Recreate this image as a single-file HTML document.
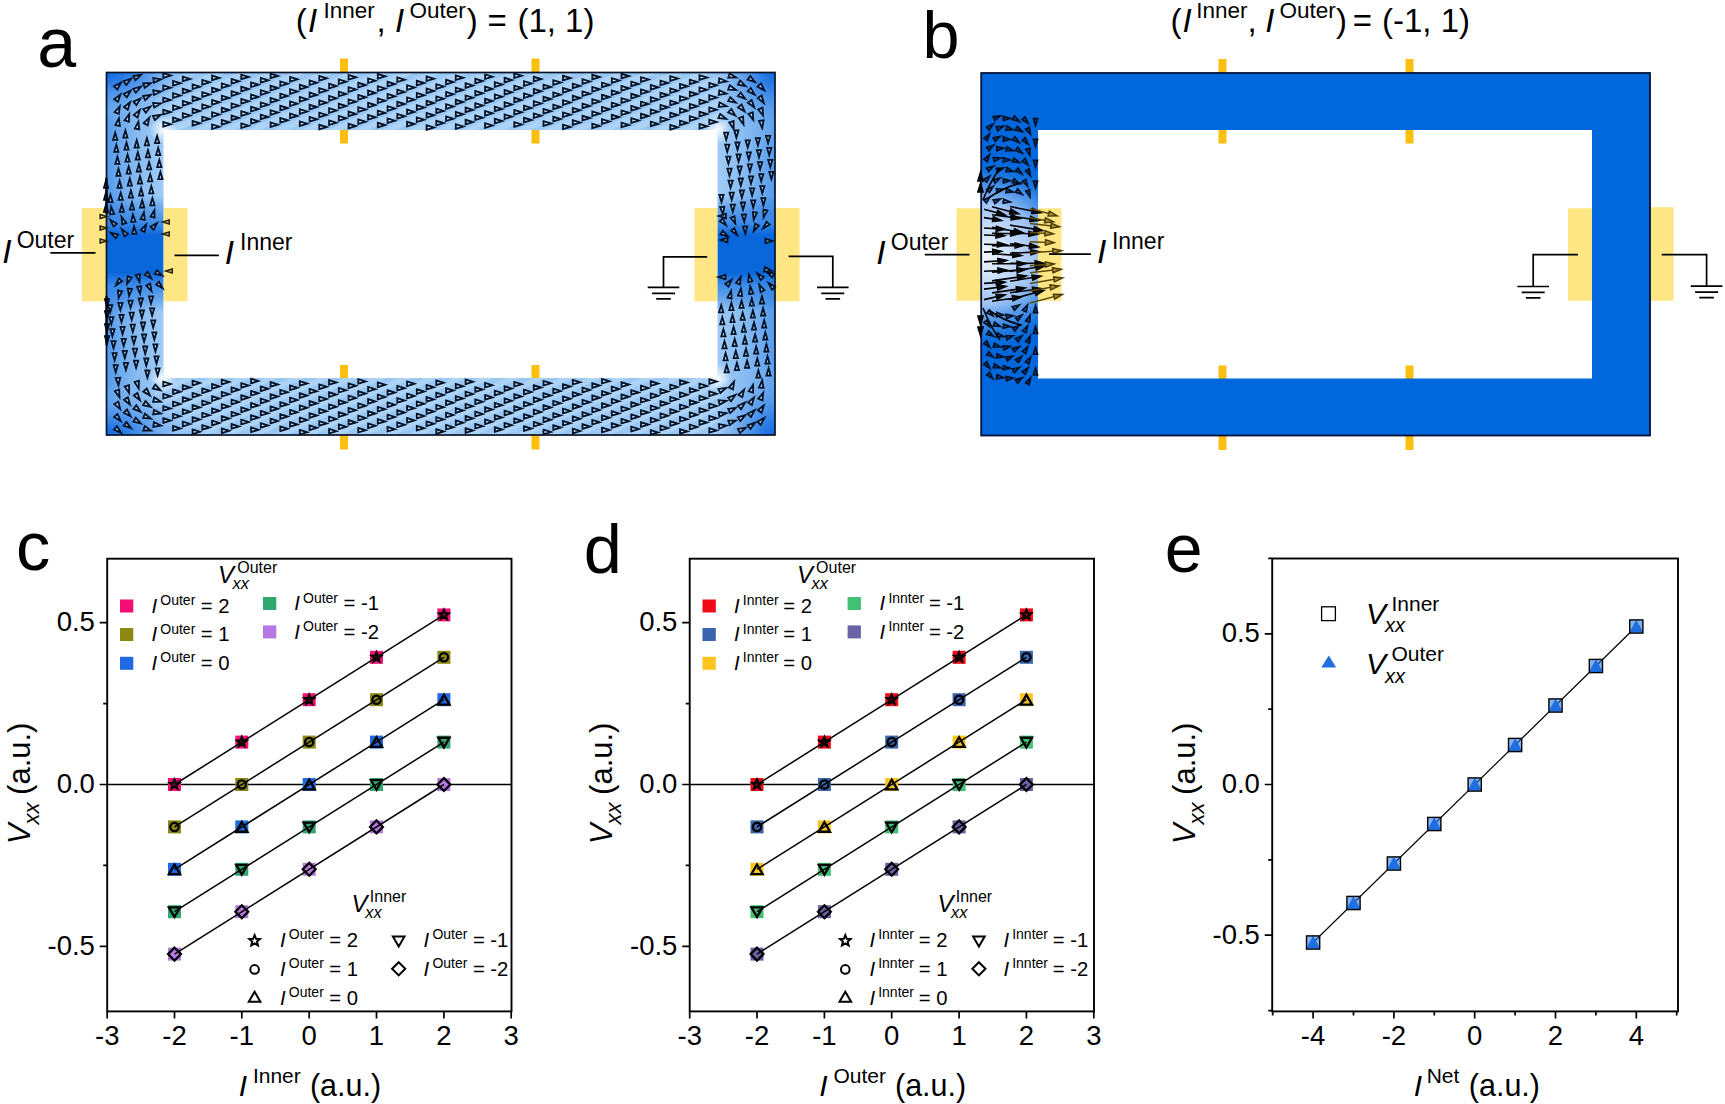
<!DOCTYPE html>
<html><head><meta charset="utf-8"><title>Figure</title>
<style>html,body{margin:0;padding:0;background:#fff}svg{display:block}</style></head>
<body><svg width="1725" height="1104" viewBox="0 0 1725 1104">
<rect width="1725" height="1104" fill="#fff"/>
<defs>
<radialGradient id="gTL" gradientUnits="userSpaceOnUse" cx="0" cy="0" r="1" gradientTransform="translate(106.5 72.5) scale(105 52)"><stop offset="0" stop-color="#0f68e0"/><stop offset="0.22" stop-color="#2c7ee6" stop-opacity="0.95"/><stop offset="0.55" stop-color="#5c9deb" stop-opacity="0.55"/><stop offset="1" stop-color="#a0ccf5" stop-opacity="0"/></radialGradient>
<radialGradient id="gBL" gradientUnits="userSpaceOnUse" cx="0" cy="0" r="1" gradientTransform="translate(106.5 435.0) scale(105 52)"><stop offset="0" stop-color="#0f68e0"/><stop offset="0.22" stop-color="#2c7ee6" stop-opacity="0.95"/><stop offset="0.55" stop-color="#5c9deb" stop-opacity="0.55"/><stop offset="1" stop-color="#a0ccf5" stop-opacity="0"/></radialGradient>
<radialGradient id="gTR" gradientUnits="userSpaceOnUse" cx="0" cy="0" r="1" gradientTransform="translate(775.0 72.5) scale(70 72)"><stop offset="0" stop-color="#0f68e0"/><stop offset="0.22" stop-color="#2c7ee6" stop-opacity="0.95"/><stop offset="0.55" stop-color="#5c9deb" stop-opacity="0.55"/><stop offset="1" stop-color="#a0ccf5" stop-opacity="0"/></radialGradient>
<radialGradient id="gBR" gradientUnits="userSpaceOnUse" cx="0" cy="0" r="1" gradientTransform="translate(775.0 435.0) scale(70 72)"><stop offset="0" stop-color="#0f68e0"/><stop offset="0.22" stop-color="#2c7ee6" stop-opacity="0.95"/><stop offset="0.55" stop-color="#5c9deb" stop-opacity="0.55"/><stop offset="1" stop-color="#a0ccf5" stop-opacity="0"/></radialGradient>
<linearGradient id="gLS" gradientUnits="userSpaceOnUse" x1="106.5" y1="0" x2="163.5" y2="0"><stop offset="0" stop-color="#4f96ea" stop-opacity="0.95"/><stop offset="0.55" stop-color="#6aa8ee" stop-opacity="0.45"/><stop offset="1" stop-color="#6aa8ee" stop-opacity="0"/></linearGradient>
<linearGradient id="gRS" gradientUnits="userSpaceOnUse" x1="775.0" y1="0" x2="717.5" y2="0"><stop offset="0" stop-color="#4f96ea" stop-opacity="0.95"/><stop offset="0.55" stop-color="#6aa8ee" stop-opacity="0.45"/><stop offset="1" stop-color="#6aa8ee" stop-opacity="0"/></linearGradient>
<radialGradient id="wTL" gradientUnits="userSpaceOnUse" cx="163.5" cy="130.0" r="14"><stop offset="0" stop-color="#ffffff" stop-opacity="0.95"/><stop offset="1" stop-color="#ffffff" stop-opacity="0"/></radialGradient>
<radialGradient id="wBL" gradientUnits="userSpaceOnUse" cx="163.5" cy="378.0" r="14"><stop offset="0" stop-color="#ffffff" stop-opacity="0.95"/><stop offset="1" stop-color="#ffffff" stop-opacity="0"/></radialGradient>
<radialGradient id="wTR" gradientUnits="userSpaceOnUse" cx="717.5" cy="130.0" r="14"><stop offset="0" stop-color="#ffffff" stop-opacity="0.95"/><stop offset="1" stop-color="#ffffff" stop-opacity="0"/></radialGradient>
<radialGradient id="wBR" gradientUnits="userSpaceOnUse" cx="717.5" cy="378.0" r="14"><stop offset="0" stop-color="#ffffff" stop-opacity="0.95"/><stop offset="1" stop-color="#ffffff" stop-opacity="0"/></radialGradient>
<linearGradient id="gC" gradientUnits="userSpaceOnUse" x1="0" y1="196.0" x2="0" y2="312.0"><stop offset="0" stop-color="#0a66db" stop-opacity="0"/><stop offset="0.22" stop-color="#2f82e6" stop-opacity="0.8"/><stop offset="0.34" stop-color="#0a66db"/><stop offset="0.66" stop-color="#0a66db"/><stop offset="0.78" stop-color="#2f82e6" stop-opacity="0.8"/><stop offset="1" stop-color="#0a66db" stop-opacity="0"/></linearGradient>
<radialGradient id="bSpot" gradientUnits="userSpaceOnUse" cx="0" cy="0" r="1" gradientTransform="translate(981 254) scale(130 115)"><stop offset="0" stop-color="#ffffff" stop-opacity="0.97"/><stop offset="0.22" stop-color="#d6e7fc" stop-opacity="0.95"/><stop offset="0.44" stop-color="#a8c8f4" stop-opacity="0.95"/><stop offset="0.62" stop-color="#5f9eed" stop-opacity="0.7"/><stop offset="0.85" stop-color="#0068dc" stop-opacity="0"/></radialGradient>
<clipPath id="clipA"><path d="M106.5 72.5H775.0V435.0H106.5Z M163.5 130.0V378.0H717.5V130.0Z" clip-rule="evenodd"/></clipPath>
<clipPath id="clipBL"><rect x="981.5" y="100" width="56.5" height="300"/></clipPath>
<pattern id="bands" patternUnits="userSpaceOnUse" width="40" height="11.1" patternTransform="translate(0 4) rotate(-24.3)"><rect width="40" height="5.5" fill="#8fc0f2" fill-opacity="0.35"/><rect y="5.5" width="40" height="5.6" fill="#c4e0fb" fill-opacity="0.35"/></pattern>
</defs>
<rect x="82" y="208" width="24.5" height="93.3" fill="#fee684"/>
<rect x="163.5" y="208" width="24" height="93.3" fill="#fee684"/>
<rect x="694.5" y="208" width="23.5" height="93.3" fill="#fee684"/>
<rect x="775" y="208" width="24.5" height="93.3" fill="#fee684"/>
<rect x="340" y="58.5" width="8" height="14.5" fill="#fbbf10"/>
<rect x="340" y="130" width="8" height="13.5" fill="#fbbf10"/>
<rect x="340" y="365" width="8" height="13.5" fill="#fbbf10"/>
<rect x="340" y="435" width="8" height="14.5" fill="#fbbf10"/>
<rect x="531.5" y="58.5" width="8" height="14.5" fill="#fbbf10"/>
<rect x="531.5" y="130" width="8" height="13.5" fill="#fbbf10"/>
<rect x="531.5" y="365" width="8" height="13.5" fill="#fbbf10"/>
<rect x="531.5" y="435" width="8" height="14.5" fill="#fbbf10"/>
<path d="M106.5 72.5H775.0V435.0H106.5Z M163.5 130.0V378.0H717.5V130.0Z" fill="#a0ccf5" fill-rule="evenodd"/>
<g clip-path="url(#clipA)">
<rect x="153.5" y="72.5" width="574.0" height="57.5" fill="url(#bands)"/>
<rect x="153.5" y="378.0" width="574.0" height="57.0" fill="url(#bands)"/>
<rect x="106.5" y="72.5" width="57.0" height="362.5" fill="url(#gLS)"/>
<rect x="717.5" y="72.5" width="57.5" height="362.5" fill="url(#gRS)"/>
<rect x="106.5" y="72.5" width="130" height="70" fill="url(#gTL)"/>
<rect x="106.5" y="365.0" width="130" height="70" fill="url(#gBL)"/>
<rect x="675.0" y="72.5" width="100" height="100" fill="url(#gTR)"/>
<rect x="675.0" y="335.0" width="100" height="100" fill="url(#gBR)"/>
<rect x="106.5" y="196.0" width="57.0" height="116" fill="url(#gC)"/>
<rect x="717.5" y="196.0" width="57.5" height="116" fill="url(#gC)"/>
<circle cx="163.5" cy="130.0" r="14" fill="url(#wTL)"/>
<circle cx="163.5" cy="378.0" r="14" fill="url(#wBL)"/>
<circle cx="717.5" cy="130.0" r="14" fill="url(#wTR)"/>
<circle cx="717.5" cy="378.0" r="14" fill="url(#wBR)"/>
</g>
<path d="M117.3 89.5L120.9 82.7L114.0 86.3ZM118.0 101.8L120.4 94.5L114.2 99.2ZM118.8 114.0L119.8 106.3L114.6 112.1ZM119.9 125.9L118.9 118.3L115.3 125.1ZM126.3 84.9L131.0 78.7L123.7 81.2ZM126.9 97.3L130.7 90.5L123.7 94.0ZM127.8 109.7L130.1 102.3L124.0 107.0ZM128.9 121.8L129.2 114.0L124.6 120.2ZM135.4 80.2L141.1 74.9L133.4 76.0ZM135.8 92.6L140.9 86.7L133.4 88.7ZM136.5 105.1L140.5 98.4L133.5 101.6ZM137.6 117.5L139.8 110.0L133.8 114.9ZM139.3 129.4L138.4 121.7L134.8 128.5ZM144.8 87.7L151.0 83.1L143.2 83.4ZM145.2 100.2L150.8 94.9L143.2 96.0ZM145.9 112.8L150.5 106.5L143.2 109.1ZM147.7 125.3L149.3 117.7L143.7 123.0ZM153.9 82.6L160.9 79.4L153.3 78.1ZM154.0 95.0L160.9 91.5L153.2 90.4ZM154.2 107.4L160.8 103.4L153.1 102.9ZM154.9 120.1L160.6 114.9L152.9 116.0ZM163.3 77.8L170.7 75.5L163.3 73.2ZM163.3 90.0L170.7 87.7L163.3 85.4ZM163.3 102.2L170.7 99.9L163.3 97.6ZM163.3 114.4L170.7 112.1L163.3 109.8ZM163.3 126.6L170.7 124.3L163.3 122.0ZM173.1 85.6L180.4 83.3L173.1 81.0ZM173.1 97.8L180.4 95.5L173.1 93.2ZM173.1 110.0L180.4 107.7L173.1 105.4ZM173.1 122.2L180.4 119.9L173.1 117.6ZM182.8 81.2L190.2 78.9L182.8 76.6ZM182.8 93.4L190.2 91.1L182.8 88.8ZM182.8 105.6L190.2 103.3L182.8 101.0ZM182.8 117.8L190.2 115.5L182.8 113.2ZM192.6 89.0L199.9 86.7L192.6 84.4ZM192.6 101.2L199.9 98.9L192.6 96.6ZM192.6 113.4L199.9 111.1L192.6 108.8ZM192.6 125.6L199.9 123.3L192.6 121.0ZM202.3 84.6L209.7 82.3L202.3 80.0ZM202.3 96.8L209.7 94.5L202.3 92.2ZM202.3 109.0L209.7 106.7L202.3 104.4ZM202.3 121.2L209.7 118.9L202.3 116.6ZM212.1 80.2L219.4 77.9L212.1 75.6ZM212.1 92.4L219.4 90.1L212.1 87.8ZM212.1 104.6L219.4 102.3L212.1 100.0ZM212.1 116.8L219.4 114.5L212.1 112.2ZM212.1 129.0L219.4 126.7L212.1 124.4ZM221.8 88.0L229.2 85.7L221.8 83.4ZM221.8 100.2L229.2 97.9L221.8 95.6ZM221.8 112.4L229.2 110.1L221.8 107.8ZM221.8 124.6L229.2 122.3L221.8 120.0ZM231.6 83.6L238.9 81.3L231.6 79.0ZM231.6 95.8L238.9 93.5L231.6 91.2ZM231.6 108.0L238.9 105.7L231.6 103.4ZM231.6 120.2L238.9 117.9L231.6 115.6ZM241.3 79.2L248.7 76.9L241.3 74.6ZM241.3 91.4L248.7 89.1L241.3 86.8ZM241.3 103.6L248.7 101.3L241.3 99.0ZM241.3 115.8L248.7 113.5L241.3 111.2ZM241.3 128.0L248.7 125.7L241.3 123.4ZM251.1 87.0L258.4 84.7L251.1 82.4ZM251.1 99.2L258.4 96.9L251.1 94.6ZM251.1 111.4L258.4 109.1L251.1 106.8ZM251.1 123.6L258.4 121.3L251.1 119.0ZM260.8 82.6L268.2 80.3L260.8 78.0ZM260.8 94.8L268.2 92.5L260.8 90.2ZM260.8 107.0L268.2 104.7L260.8 102.4ZM260.8 119.2L268.2 116.9L260.8 114.6ZM270.6 78.2L277.9 75.9L270.6 73.6ZM270.6 90.4L277.9 88.1L270.6 85.8ZM270.6 102.6L277.9 100.3L270.6 98.0ZM270.6 114.8L277.9 112.5L270.6 110.2ZM270.6 127.0L277.9 124.7L270.6 122.4ZM280.3 86.0L287.7 83.7L280.3 81.4ZM280.3 98.2L287.7 95.9L280.3 93.6ZM280.3 110.4L287.7 108.1L280.3 105.8ZM280.3 122.6L287.7 120.3L280.3 118.0ZM290.1 81.6L297.4 79.3L290.1 77.0ZM290.1 93.8L297.4 91.5L290.1 89.2ZM290.1 106.0L297.4 103.7L290.1 101.4ZM290.1 118.2L297.4 115.9L290.1 113.6ZM299.8 89.4L307.2 87.1L299.8 84.8ZM299.8 101.6L307.2 99.3L299.8 97.0ZM299.8 113.8L307.2 111.5L299.8 109.2ZM299.8 126.0L307.2 123.7L299.8 121.4ZM309.6 85.0L316.9 82.7L309.6 80.4ZM309.6 97.2L316.9 94.9L309.6 92.6ZM309.6 109.4L316.9 107.1L309.6 104.8ZM309.6 121.6L316.9 119.3L309.6 117.0ZM319.3 80.6L326.7 78.3L319.3 76.0ZM319.3 92.8L326.7 90.5L319.3 88.2ZM319.3 105.0L326.7 102.7L319.3 100.4ZM319.3 117.2L326.7 114.9L319.3 112.6ZM319.3 129.4L326.7 127.1L319.3 124.8ZM329.1 88.4L336.4 86.1L329.1 83.8ZM329.1 100.6L336.4 98.3L329.1 96.0ZM329.1 112.8L336.4 110.5L329.1 108.2ZM329.1 125.0L336.4 122.7L329.1 120.4ZM338.8 84.0L346.2 81.7L338.8 79.4ZM338.8 96.2L346.2 93.9L338.8 91.6ZM338.8 108.4L346.2 106.1L338.8 103.8ZM338.8 120.6L346.2 118.3L338.8 116.0ZM348.6 79.6L355.9 77.3L348.6 75.0ZM348.6 91.8L355.9 89.5L348.6 87.2ZM348.6 104.0L355.9 101.7L348.6 99.4ZM348.6 116.2L355.9 113.9L348.6 111.6ZM348.6 128.4L355.9 126.1L348.6 123.8ZM358.3 87.4L365.7 85.1L358.3 82.8ZM358.3 99.6L365.7 97.3L358.3 95.0ZM358.3 111.8L365.7 109.5L358.3 107.2ZM358.3 124.0L365.7 121.7L358.3 119.4ZM368.1 83.0L375.4 80.7L368.1 78.4ZM368.1 95.2L375.4 92.9L368.1 90.6ZM368.1 107.4L375.4 105.1L368.1 102.8ZM368.1 119.6L375.4 117.3L368.1 115.0ZM377.8 78.6L385.2 76.3L377.8 74.0ZM377.8 90.8L385.2 88.5L377.8 86.2ZM377.8 103.0L385.2 100.7L377.8 98.4ZM377.8 115.2L385.2 112.9L377.8 110.6ZM377.8 127.4L385.2 125.1L377.8 122.8ZM387.6 86.4L394.9 84.1L387.6 81.8ZM387.6 98.6L394.9 96.3L387.6 94.0ZM387.6 110.8L394.9 108.5L387.6 106.2ZM387.6 123.0L394.9 120.7L387.6 118.4ZM397.3 82.0L404.7 79.7L397.3 77.4ZM397.3 94.2L404.7 91.9L397.3 89.6ZM397.3 106.4L404.7 104.1L397.3 101.8ZM397.3 118.6L404.7 116.3L397.3 114.0ZM407.1 89.8L414.4 87.5L407.1 85.2ZM407.1 102.0L414.4 99.7L407.1 97.4ZM407.1 114.2L414.4 111.9L407.1 109.6ZM407.1 126.4L414.4 124.1L407.1 121.8ZM416.8 85.4L424.2 83.1L416.8 80.8ZM416.8 97.6L424.2 95.3L416.8 93.0ZM416.8 109.8L424.2 107.5L416.8 105.2ZM416.8 122.0L424.2 119.7L416.8 117.4ZM426.6 81.0L433.9 78.7L426.6 76.4ZM426.6 93.2L433.9 90.9L426.6 88.6ZM426.6 105.4L433.9 103.1L426.6 100.8ZM426.6 117.6L433.9 115.3L426.6 113.0ZM426.6 129.8L433.9 127.5L426.6 125.2ZM436.3 88.8L443.7 86.5L436.3 84.2ZM436.3 101.0L443.7 98.7L436.3 96.4ZM436.3 113.2L443.7 110.9L436.3 108.6ZM436.3 125.4L443.7 123.1L436.3 120.8ZM446.1 84.4L453.4 82.1L446.1 79.8ZM446.1 96.6L453.4 94.3L446.1 92.0ZM446.1 108.8L453.4 106.5L446.1 104.2ZM446.1 121.0L453.4 118.7L446.1 116.4ZM455.8 80.0L463.2 77.7L455.8 75.4ZM455.8 92.2L463.2 89.9L455.8 87.6ZM455.8 104.4L463.2 102.1L455.8 99.8ZM455.8 116.6L463.2 114.3L455.8 112.0ZM455.8 128.8L463.2 126.5L455.8 124.2ZM465.6 87.8L472.9 85.5L465.6 83.2ZM465.6 100.0L472.9 97.7L465.6 95.4ZM465.6 112.2L472.9 109.9L465.6 107.6ZM465.6 124.4L472.9 122.1L465.6 119.8ZM475.3 83.4L482.7 81.1L475.3 78.8ZM475.3 95.6L482.7 93.3L475.3 91.0ZM475.3 107.8L482.7 105.5L475.3 103.2ZM475.3 120.0L482.7 117.7L475.3 115.4ZM485.1 79.0L492.4 76.7L485.1 74.4ZM485.1 91.2L492.4 88.9L485.1 86.6ZM485.1 103.4L492.4 101.1L485.1 98.8ZM485.1 115.6L492.4 113.3L485.1 111.0ZM485.1 127.8L492.4 125.5L485.1 123.2ZM494.8 86.8L502.2 84.5L494.8 82.2ZM494.8 99.0L502.2 96.7L494.8 94.4ZM494.8 111.2L502.2 108.9L494.8 106.6ZM494.8 123.4L502.2 121.1L494.8 118.8ZM504.6 82.4L511.9 80.1L504.6 77.8ZM504.6 94.6L511.9 92.3L504.6 90.0ZM504.6 106.8L511.9 104.5L504.6 102.2ZM504.6 119.0L511.9 116.7L504.6 114.4ZM514.3 78.0L521.7 75.7L514.3 73.4ZM514.3 90.2L521.7 87.9L514.3 85.6ZM514.3 102.4L521.7 100.1L514.3 97.8ZM514.3 114.6L521.7 112.3L514.3 110.0ZM514.3 126.8L521.7 124.5L514.3 122.2ZM524.0 85.8L531.5 83.5L524.0 81.2ZM524.0 98.0L531.5 95.7L524.0 93.4ZM524.0 110.2L531.5 107.9L524.0 105.6ZM524.0 122.4L531.5 120.1L524.0 117.8ZM533.8 81.4L541.2 79.1L533.8 76.8ZM533.8 93.6L541.2 91.3L533.8 89.0ZM533.8 105.8L541.2 103.5L533.8 101.2ZM533.8 118.0L541.2 115.7L533.8 113.4ZM543.5 89.2L551.0 86.9L543.5 84.6ZM543.5 101.4L551.0 99.1L543.5 96.8ZM543.5 113.6L551.0 111.3L543.5 109.0ZM543.5 125.8L551.0 123.5L543.5 121.2ZM553.3 84.8L560.7 82.5L553.3 80.2ZM553.3 97.0L560.7 94.7L553.3 92.4ZM553.3 109.2L560.7 106.9L553.3 104.6ZM553.3 121.4L560.7 119.1L553.3 116.8ZM563.0 80.4L570.5 78.1L563.0 75.8ZM563.0 92.6L570.5 90.3L563.0 88.0ZM563.0 104.8L570.5 102.5L563.0 100.2ZM563.0 117.0L570.5 114.7L563.0 112.4ZM563.0 129.2L570.5 126.9L563.0 124.6ZM572.8 88.2L580.2 85.9L572.8 83.6ZM572.8 100.4L580.2 98.1L572.8 95.8ZM572.8 112.6L580.2 110.3L572.8 108.0ZM572.8 124.8L580.2 122.5L572.8 120.2ZM582.5 83.8L590.0 81.5L582.5 79.2ZM582.5 96.0L590.0 93.7L582.5 91.4ZM582.5 108.2L590.0 105.9L582.5 103.6ZM582.5 120.4L590.0 118.1L582.5 115.8ZM592.3 79.4L599.7 77.1L592.3 74.8ZM592.3 91.6L599.7 89.3L592.3 87.0ZM592.3 103.8L599.7 101.5L592.3 99.2ZM592.3 116.0L599.7 113.7L592.3 111.4ZM592.3 128.2L599.7 125.9L592.3 123.6ZM602.0 87.2L609.5 84.9L602.0 82.6ZM602.0 99.4L609.5 97.1L602.0 94.8ZM602.0 111.6L609.5 109.3L602.0 107.0ZM602.0 123.8L609.5 121.5L602.0 119.2ZM611.8 82.8L619.2 80.5L611.8 78.2ZM611.8 95.0L619.2 92.7L611.8 90.4ZM611.8 107.2L619.2 104.9L611.8 102.6ZM611.8 119.4L619.2 117.1L611.8 114.8ZM621.5 78.4L629.0 76.1L621.5 73.8ZM621.5 90.6L629.0 88.3L621.5 86.0ZM621.5 102.8L629.0 100.5L621.5 98.2ZM621.5 115.0L629.0 112.7L621.5 110.4ZM621.5 127.2L629.0 124.9L621.5 122.6ZM631.3 86.2L638.7 83.9L631.3 81.6ZM631.3 98.4L638.7 96.1L631.3 93.8ZM631.3 110.6L638.7 108.3L631.3 106.0ZM631.3 122.8L638.7 120.5L631.3 118.2ZM641.0 81.8L648.5 79.5L641.0 77.2ZM641.0 94.0L648.5 91.7L641.0 89.4ZM641.0 106.2L648.5 103.9L641.0 101.6ZM641.0 118.4L648.5 116.1L641.0 113.8ZM650.8 89.6L658.2 87.3L650.8 85.0ZM650.8 101.8L658.2 99.5L650.8 97.2ZM650.8 114.0L658.2 111.7L650.8 109.4ZM650.8 126.2L658.2 123.9L650.8 121.6ZM660.5 85.2L668.0 82.9L660.5 80.6ZM660.5 97.4L668.0 95.1L660.5 92.8ZM660.5 109.6L668.0 107.3L660.5 105.0ZM660.5 121.8L668.0 119.5L660.5 117.2ZM670.3 80.8L677.7 78.5L670.3 76.2ZM670.3 93.0L677.7 90.7L670.3 88.4ZM670.3 105.2L677.7 102.9L670.3 100.6ZM670.3 117.4L677.7 115.1L670.3 112.8ZM670.3 129.6L677.7 127.3L670.3 125.0ZM680.0 88.6L687.5 86.3L680.0 84.0ZM680.0 100.8L687.5 98.5L680.0 96.2ZM680.0 113.0L687.5 110.7L680.0 108.4ZM680.0 125.2L687.5 122.9L680.0 120.6ZM689.8 84.2L697.2 81.9L689.8 79.6ZM689.8 96.4L697.2 94.1L689.8 91.8ZM689.8 108.6L697.2 106.3L689.8 104.0ZM689.8 120.8L697.2 118.5L689.8 116.2ZM699.5 79.8L707.0 77.5L699.5 75.2ZM699.5 92.0L707.0 89.7L699.5 87.4ZM699.5 104.2L707.0 101.9L699.5 99.6ZM699.5 116.4L707.0 114.1L699.5 111.8ZM699.5 128.6L707.0 126.3L699.5 124.0ZM709.3 87.6L716.7 85.3L709.3 83.0ZM709.3 99.8L716.7 97.5L709.3 95.2ZM709.3 112.0L716.7 109.7L709.3 107.4ZM709.3 124.2L716.7 121.9L709.3 119.6ZM718.8 82.8L726.4 81.3L719.3 78.2ZM718.8 94.9L726.4 93.6L719.4 90.3ZM718.7 106.8L726.4 106.1L719.6 102.3ZM718.4 118.2L726.2 118.9L720.2 113.9ZM728.3 77.7L736.1 77.5L729.6 73.3ZM728.2 89.6L736.0 90.0L729.8 85.3ZM728.2 101.2L735.8 102.6L730.3 97.2ZM728.2 112.4L735.3 115.6L731.3 108.9ZM729.2 122.5L733.6 128.8L733.6 121.1ZM737.9 84.6L745.5 86.1L740.1 80.5ZM737.9 96.2L745.2 98.7L740.6 92.5ZM738.1 107.4L744.7 111.5L741.6 104.4ZM738.8 118.2L743.5 124.4L743.1 116.6ZM747.6 79.7L755.0 82.0L750.3 75.9ZM747.7 91.3L754.7 94.6L750.8 87.9ZM747.9 102.7L754.2 107.3L751.6 100.0ZM748.5 113.9L753.3 119.9L752.8 112.2ZM757.5 86.6L764.3 90.4L760.9 83.4ZM757.8 98.1L763.8 103.0L761.6 95.5ZM758.2 109.5L763.1 115.5L762.5 107.8ZM759.0 120.9L762.2 128.0L763.6 120.3ZM115.7 378.1L118.5 385.3L120.2 377.7ZM114.9 391.1L119.5 397.3L119.2 389.5ZM114.3 404.1L120.2 409.1L118.3 401.6ZM114.1 417.0L120.7 421.0L117.5 413.9ZM113.9 429.7L121.1 432.8L117.0 426.2ZM124.7 386.6L129.1 392.9L129.1 385.2ZM124.0 399.8L130.0 404.7L127.9 397.2ZM123.8 412.8L130.6 416.4L127.0 409.6ZM123.7 425.6L131.0 428.2L126.4 422.0ZM134.6 382.0L138.7 388.6L139.0 380.8ZM133.7 395.6L140.0 400.2L137.4 392.9ZM133.4 408.8L140.6 411.7L136.3 405.3ZM133.4 421.7L140.9 423.5L135.7 417.7ZM143.3 391.6L150.0 395.5L146.7 388.5ZM143.1 405.1L150.7 406.9L145.5 401.1ZM143.2 417.9L150.9 418.6L144.9 413.7ZM143.3 430.5L151.0 430.5L144.7 426.1ZM152.9 388.5L160.4 390.3L155.3 384.5ZM153.1 401.8L160.8 401.6L154.3 397.4ZM153.2 414.4L160.9 413.5L154.0 409.9ZM153.3 426.8L160.9 425.5L153.9 422.2ZM163.3 386.3L170.7 384.0L163.3 381.7ZM163.3 398.5L170.7 396.2L163.3 393.9ZM163.3 410.7L170.7 408.4L163.3 406.1ZM163.3 422.9L170.7 420.6L163.3 418.3ZM173.1 394.1L180.4 391.8L173.1 389.5ZM173.1 406.3L180.4 404.0L173.1 401.7ZM173.1 418.5L180.4 416.2L173.1 413.9ZM173.1 430.7L180.4 428.4L173.1 426.1ZM182.8 389.7L190.2 387.4L182.8 385.1ZM182.8 401.9L190.2 399.6L182.8 397.3ZM182.8 414.1L190.2 411.8L182.8 409.5ZM182.8 426.3L190.2 424.0L182.8 421.7ZM192.6 385.3L199.9 383.0L192.6 380.7ZM192.6 397.5L199.9 395.2L192.6 392.9ZM192.6 409.7L199.9 407.4L192.6 405.1ZM192.6 421.9L199.9 419.6L192.6 417.3ZM192.6 434.1L199.9 431.8L192.6 429.5ZM202.3 393.1L209.7 390.8L202.3 388.5ZM202.3 405.3L209.7 403.0L202.3 400.7ZM202.3 417.5L209.7 415.2L202.3 412.9ZM202.3 429.7L209.7 427.4L202.3 425.1ZM212.1 388.7L219.4 386.4L212.1 384.1ZM212.1 400.9L219.4 398.6L212.1 396.3ZM212.1 413.1L219.4 410.8L212.1 408.5ZM212.1 425.3L219.4 423.0L212.1 420.7ZM221.8 384.3L229.2 382.0L221.8 379.7ZM221.8 396.5L229.2 394.2L221.8 391.9ZM221.8 408.7L229.2 406.4L221.8 404.1ZM221.8 420.9L229.2 418.6L221.8 416.3ZM221.8 433.1L229.2 430.8L221.8 428.5ZM231.6 392.1L238.9 389.8L231.6 387.5ZM231.6 404.3L238.9 402.0L231.6 399.7ZM231.6 416.5L238.9 414.2L231.6 411.9ZM231.6 428.7L238.9 426.4L231.6 424.1ZM241.3 387.7L248.7 385.4L241.3 383.1ZM241.3 399.9L248.7 397.6L241.3 395.3ZM241.3 412.1L248.7 409.8L241.3 407.5ZM241.3 424.3L248.7 422.0L241.3 419.7ZM251.1 383.3L258.4 381.0L251.1 378.7ZM251.1 395.5L258.4 393.2L251.1 390.9ZM251.1 407.7L258.4 405.4L251.1 403.1ZM251.1 419.9L258.4 417.6L251.1 415.3ZM251.1 432.1L258.4 429.8L251.1 427.5ZM260.8 391.1L268.2 388.8L260.8 386.5ZM260.8 403.3L268.2 401.0L260.8 398.7ZM260.8 415.5L268.2 413.2L260.8 410.9ZM260.8 427.7L268.2 425.4L260.8 423.1ZM270.6 386.7L277.9 384.4L270.6 382.1ZM270.6 398.9L277.9 396.6L270.6 394.3ZM270.6 411.1L277.9 408.8L270.6 406.5ZM270.6 423.3L277.9 421.0L270.6 418.7ZM280.3 394.5L287.7 392.2L280.3 389.9ZM280.3 406.7L287.7 404.4L280.3 402.1ZM280.3 418.9L287.7 416.6L280.3 414.3ZM280.3 431.1L287.7 428.8L280.3 426.5ZM290.1 390.1L297.4 387.8L290.1 385.5ZM290.1 402.3L297.4 400.0L290.1 397.7ZM290.1 414.5L297.4 412.2L290.1 409.9ZM290.1 426.7L297.4 424.4L290.1 422.1ZM299.8 385.7L307.2 383.4L299.8 381.1ZM299.8 397.9L307.2 395.6L299.8 393.3ZM299.8 410.1L307.2 407.8L299.8 405.5ZM299.8 422.3L307.2 420.0L299.8 417.7ZM299.8 434.5L307.2 432.2L299.8 429.9ZM309.6 393.5L316.9 391.2L309.6 388.9ZM309.6 405.7L316.9 403.4L309.6 401.1ZM309.6 417.9L316.9 415.6L309.6 413.3ZM309.6 430.1L316.9 427.8L309.6 425.5ZM319.3 389.1L326.7 386.8L319.3 384.5ZM319.3 401.3L326.7 399.0L319.3 396.7ZM319.3 413.5L326.7 411.2L319.3 408.9ZM319.3 425.7L326.7 423.4L319.3 421.1ZM329.1 384.7L336.4 382.4L329.1 380.1ZM329.1 396.9L336.4 394.6L329.1 392.3ZM329.1 409.1L336.4 406.8L329.1 404.5ZM329.1 421.3L336.4 419.0L329.1 416.7ZM329.1 433.5L336.4 431.2L329.1 428.9ZM338.8 392.5L346.2 390.2L338.8 387.9ZM338.8 404.7L346.2 402.4L338.8 400.1ZM338.8 416.9L346.2 414.6L338.8 412.3ZM338.8 429.1L346.2 426.8L338.8 424.5ZM348.6 388.1L355.9 385.8L348.6 383.5ZM348.6 400.3L355.9 398.0L348.6 395.7ZM348.6 412.5L355.9 410.2L348.6 407.9ZM348.6 424.7L355.9 422.4L348.6 420.1ZM358.3 383.7L365.7 381.4L358.3 379.1ZM358.3 395.9L365.7 393.6L358.3 391.3ZM358.3 408.1L365.7 405.8L358.3 403.5ZM358.3 420.3L365.7 418.0L358.3 415.7ZM358.3 432.5L365.7 430.2L358.3 427.9ZM368.1 391.5L375.4 389.2L368.1 386.9ZM368.1 403.7L375.4 401.4L368.1 399.1ZM368.1 415.9L375.4 413.6L368.1 411.3ZM368.1 428.1L375.4 425.8L368.1 423.5ZM377.8 387.1L385.2 384.8L377.8 382.5ZM377.8 399.3L385.2 397.0L377.8 394.7ZM377.8 411.5L385.2 409.2L377.8 406.9ZM377.8 423.7L385.2 421.4L377.8 419.1ZM387.6 394.9L394.9 392.6L387.6 390.3ZM387.6 407.1L394.9 404.8L387.6 402.5ZM387.6 419.3L394.9 417.0L387.6 414.7ZM387.6 431.5L394.9 429.2L387.6 426.9ZM397.3 390.5L404.7 388.2L397.3 385.9ZM397.3 402.7L404.7 400.4L397.3 398.1ZM397.3 414.9L404.7 412.6L397.3 410.3ZM397.3 427.1L404.7 424.8L397.3 422.5ZM407.1 386.1L414.4 383.8L407.1 381.5ZM407.1 398.3L414.4 396.0L407.1 393.7ZM407.1 410.5L414.4 408.2L407.1 405.9ZM407.1 422.7L414.4 420.4L407.1 418.1ZM416.8 393.9L424.2 391.6L416.8 389.3ZM416.8 406.1L424.2 403.8L416.8 401.5ZM416.8 418.3L424.2 416.0L416.8 413.7ZM416.8 430.5L424.2 428.2L416.8 425.9ZM426.6 389.5L433.9 387.2L426.6 384.9ZM426.6 401.7L433.9 399.4L426.6 397.1ZM426.6 413.9L433.9 411.6L426.6 409.3ZM426.6 426.1L433.9 423.8L426.6 421.5ZM436.3 385.1L443.7 382.8L436.3 380.5ZM436.3 397.3L443.7 395.0L436.3 392.7ZM436.3 409.5L443.7 407.2L436.3 404.9ZM436.3 421.7L443.7 419.4L436.3 417.1ZM436.3 433.9L443.7 431.6L436.3 429.3ZM446.1 392.9L453.4 390.6L446.1 388.3ZM446.1 405.1L453.4 402.8L446.1 400.5ZM446.1 417.3L453.4 415.0L446.1 412.7ZM446.1 429.5L453.4 427.2L446.1 424.9ZM455.8 388.5L463.2 386.2L455.8 383.9ZM455.8 400.7L463.2 398.4L455.8 396.1ZM455.8 412.9L463.2 410.6L455.8 408.3ZM455.8 425.1L463.2 422.8L455.8 420.5ZM465.6 384.1L472.9 381.8L465.6 379.5ZM465.6 396.3L472.9 394.0L465.6 391.7ZM465.6 408.5L472.9 406.2L465.6 403.9ZM465.6 420.7L472.9 418.4L465.6 416.1ZM465.6 432.9L472.9 430.6L465.6 428.3ZM475.3 391.9L482.7 389.6L475.3 387.3ZM475.3 404.1L482.7 401.8L475.3 399.5ZM475.3 416.3L482.7 414.0L475.3 411.7ZM475.3 428.5L482.7 426.2L475.3 423.9ZM485.1 387.5L492.4 385.2L485.1 382.9ZM485.1 399.7L492.4 397.4L485.1 395.1ZM485.1 411.9L492.4 409.6L485.1 407.3ZM485.1 424.1L492.4 421.8L485.1 419.5ZM494.8 395.3L502.2 393.0L494.8 390.7ZM494.8 407.5L502.2 405.2L494.8 402.9ZM494.8 419.7L502.2 417.4L494.8 415.1ZM494.8 431.9L502.2 429.6L494.8 427.3ZM504.6 390.9L511.9 388.6L504.6 386.3ZM504.6 403.1L511.9 400.8L504.6 398.5ZM504.6 415.3L511.9 413.0L504.6 410.7ZM504.6 427.5L511.9 425.2L504.6 422.9ZM514.3 386.5L521.7 384.2L514.3 381.9ZM514.3 398.7L521.7 396.4L514.3 394.1ZM514.3 410.9L521.7 408.6L514.3 406.3ZM514.3 423.1L521.7 420.8L514.3 418.5ZM524.0 394.3L531.5 392.0L524.0 389.7ZM524.0 406.5L531.5 404.2L524.0 401.9ZM524.0 418.7L531.5 416.4L524.0 414.1ZM524.0 430.9L531.5 428.6L524.0 426.3ZM533.8 389.9L541.2 387.6L533.8 385.3ZM533.8 402.1L541.2 399.8L533.8 397.5ZM533.8 414.3L541.2 412.0L533.8 409.7ZM533.8 426.5L541.2 424.2L533.8 421.9ZM543.5 385.5L551.0 383.2L543.5 380.9ZM543.5 397.7L551.0 395.4L543.5 393.1ZM543.5 409.9L551.0 407.6L543.5 405.3ZM543.5 422.1L551.0 419.8L543.5 417.5ZM543.5 434.3L551.0 432.0L543.5 429.7ZM553.3 393.3L560.7 391.0L553.3 388.7ZM553.3 405.5L560.7 403.2L553.3 400.9ZM553.3 417.7L560.7 415.4L553.3 413.1ZM553.3 429.9L560.7 427.6L553.3 425.3ZM563.0 388.9L570.5 386.6L563.0 384.3ZM563.0 401.1L570.5 398.8L563.0 396.5ZM563.0 413.3L570.5 411.0L563.0 408.7ZM563.0 425.5L570.5 423.2L563.0 420.9ZM572.8 384.5L580.2 382.2L572.8 379.9ZM572.8 396.7L580.2 394.4L572.8 392.1ZM572.8 408.9L580.2 406.6L572.8 404.3ZM572.8 421.1L580.2 418.8L572.8 416.5ZM572.8 433.3L580.2 431.0L572.8 428.7ZM582.5 392.3L590.0 390.0L582.5 387.7ZM582.5 404.5L590.0 402.2L582.5 399.9ZM582.5 416.7L590.0 414.4L582.5 412.1ZM582.5 428.9L590.0 426.6L582.5 424.3ZM592.3 387.9L599.7 385.6L592.3 383.3ZM592.3 400.1L599.7 397.8L592.3 395.5ZM592.3 412.3L599.7 410.0L592.3 407.7ZM592.3 424.5L599.7 422.2L592.3 419.9ZM602.0 383.5L609.5 381.2L602.0 378.9ZM602.0 395.7L609.5 393.4L602.0 391.1ZM602.0 407.9L609.5 405.6L602.0 403.3ZM602.0 420.1L609.5 417.8L602.0 415.5ZM602.0 432.3L609.5 430.0L602.0 427.7ZM611.8 391.3L619.2 389.0L611.8 386.7ZM611.8 403.5L619.2 401.2L611.8 398.9ZM611.8 415.7L619.2 413.4L611.8 411.1ZM611.8 427.9L619.2 425.6L611.8 423.3ZM621.5 386.9L629.0 384.6L621.5 382.3ZM621.5 399.1L629.0 396.8L621.5 394.5ZM621.5 411.3L629.0 409.0L621.5 406.7ZM621.5 423.5L629.0 421.2L621.5 418.9ZM631.3 394.7L638.7 392.4L631.3 390.1ZM631.3 406.9L638.7 404.6L631.3 402.3ZM631.3 419.1L638.7 416.8L631.3 414.5ZM631.3 431.3L638.7 429.0L631.3 426.7ZM641.0 390.3L648.5 388.0L641.0 385.7ZM641.0 402.5L648.5 400.2L641.0 397.9ZM641.0 414.7L648.5 412.4L641.0 410.1ZM641.0 426.9L648.5 424.6L641.0 422.3ZM650.8 385.9L658.2 383.6L650.8 381.3ZM650.8 398.1L658.2 395.8L650.8 393.5ZM650.8 410.3L658.2 408.0L650.8 405.7ZM650.8 422.5L658.2 420.2L650.8 417.9ZM650.8 434.7L658.2 432.4L650.8 430.1ZM660.5 393.7L668.0 391.4L660.5 389.1ZM660.5 405.9L668.0 403.6L660.5 401.3ZM660.5 418.1L668.0 415.8L660.5 413.5ZM660.5 430.3L668.0 428.0L660.5 425.7ZM670.3 389.3L677.7 387.0L670.3 384.7ZM670.3 401.5L677.7 399.2L670.3 396.9ZM670.3 413.7L677.7 411.4L670.3 409.1ZM670.3 425.9L677.7 423.6L670.3 421.3ZM680.0 384.9L687.5 382.6L680.0 380.3ZM680.0 397.1L687.5 394.8L680.0 392.5ZM680.0 409.3L687.5 407.0L680.0 404.7ZM680.0 421.5L687.5 419.2L680.0 416.9ZM680.0 433.7L687.5 431.4L680.0 429.1ZM689.8 392.7L697.2 390.4L689.8 388.1ZM689.8 404.9L697.2 402.6L689.8 400.3ZM689.8 417.1L697.2 414.8L689.8 412.5ZM689.8 429.3L697.2 427.0L689.8 424.7ZM699.5 388.3L707.0 386.0L699.5 383.7ZM699.5 400.5L707.0 398.2L699.5 395.9ZM699.5 412.7L707.0 410.4L699.5 408.1ZM699.5 424.9L707.0 422.6L699.5 420.3ZM709.3 383.9L716.7 381.6L709.3 379.3ZM709.3 396.1L716.7 393.8L709.3 391.5ZM709.3 408.3L716.7 406.0L709.3 403.7ZM709.3 420.5L716.7 418.2L709.3 415.9ZM709.3 432.7L716.7 430.4L709.3 428.1ZM720.4 393.0L726.1 387.9L718.4 388.9ZM719.6 404.6L726.4 400.8L718.6 400.2ZM719.4 416.6L726.4 413.3L718.8 412.1ZM719.3 428.7L726.4 425.6L718.8 424.1ZM733.0 389.3L734.1 381.6L728.9 387.4ZM731.0 401.3L735.4 394.9L728.2 397.7ZM730.2 413.1L735.8 407.8L728.2 408.9ZM729.7 425.0L736.0 420.4L728.3 420.6ZM742.3 397.2L744.1 389.6L738.4 394.8ZM741.1 409.2L745.0 402.5L738.0 405.8ZM740.3 421.1L745.4 415.2L737.9 417.2ZM739.9 433.1L745.6 427.8L737.9 428.9ZM753.1 392.6L753.1 384.9L748.7 391.3ZM751.9 405.0L754.0 397.5L748.0 402.4ZM751.0 417.0L754.6 410.2L747.8 413.8ZM750.4 429.0L755.0 422.8L747.7 425.3ZM763.5 388.0L762.2 380.3L759.0 387.4ZM762.5 400.5L763.2 392.8L758.2 398.7ZM761.6 412.8L763.8 405.4L757.8 410.1ZM760.8 424.9L764.3 417.9L757.5 421.7ZM108.1 305.1L110.2 312.3L112.3 305.1ZM109.2 317.1L111.3 324.3L113.4 317.1ZM110.3 329.1L112.4 336.3L114.5 329.1ZM111.4 341.1L113.5 348.3L115.6 341.1ZM112.5 353.1L114.6 360.3L116.7 353.1ZM113.6 365.1L115.7 372.3L117.8 365.1ZM112.6 202.1L110.5 194.9L108.4 202.1ZM114.1 213.9L111.2 206.9L109.9 214.3ZM116.7 223.8L110.3 219.8L113.6 226.6ZM118.0 234.6L110.7 232.6L115.8 238.2ZM118.9 278.4L115.9 285.3L122.1 281.1ZM118.0 290.5L118.6 298.0L122.1 291.4ZM118.3 302.9L120.4 310.1L122.5 302.9ZM119.4 314.9L121.5 322.1L123.6 314.9ZM120.5 326.9L122.6 334.1L124.7 326.9ZM121.6 338.9L123.7 346.1L125.8 338.9ZM122.7 350.9L124.8 358.1L126.9 350.9ZM123.8 362.9L125.9 370.1L128.0 362.9ZM117.3 139.9L115.2 132.7L113.1 139.9ZM118.4 151.9L116.3 144.7L114.2 151.9ZM119.5 163.9L117.4 156.7L115.3 163.9ZM120.6 175.9L118.5 168.7L116.4 175.9ZM121.7 187.9L119.6 180.7L117.5 187.9ZM122.8 199.9L120.7 192.7L118.6 199.9ZM123.9 211.9L121.8 204.7L119.7 211.9ZM126.2 222.8L121.5 217.0L122.3 224.4ZM127.9 233.9L121.8 229.4L124.5 236.4ZM127.7 276.2L127.1 283.7L131.6 277.7ZM127.8 288.5L129.1 295.9L132.0 289.0ZM128.5 300.7L130.6 307.9L132.7 300.7ZM129.6 312.7L131.7 319.9L133.8 312.7ZM130.7 324.7L132.8 331.9L134.9 324.7ZM131.8 336.7L133.9 343.9L136.0 336.7ZM132.9 348.7L135.0 355.9L137.1 348.7ZM134.0 360.7L136.1 367.9L138.2 360.7ZM127.5 137.7L125.4 130.5L123.3 137.7ZM128.6 149.7L126.5 142.5L124.4 149.7ZM129.7 161.7L127.6 154.5L125.5 161.7ZM130.8 173.7L128.7 166.5L126.6 173.7ZM131.9 185.7L129.8 178.5L127.7 185.7ZM133.0 197.7L130.9 190.5L128.8 197.7ZM134.1 209.7L132.0 202.5L129.9 209.7ZM135.4 221.6L132.9 214.5L131.2 221.8ZM136.5 233.6L134.0 226.5L132.3 233.8ZM135.8 275.1L139.4 281.6L139.9 274.1ZM137.2 286.8L140.1 293.7L141.3 286.3ZM138.7 298.5L140.8 305.7L142.9 298.5ZM139.8 310.5L141.9 317.7L144.0 310.5ZM140.9 322.5L143.0 329.7L145.1 322.5ZM142.0 334.5L144.1 341.7L146.2 334.5ZM143.1 346.5L145.2 353.7L147.3 346.5ZM144.2 358.5L146.3 365.7L148.4 358.5ZM145.3 370.5L147.4 377.7L149.5 370.5ZM138.8 147.5L136.7 140.3L134.6 147.5ZM139.9 159.5L137.8 152.3L135.7 159.5ZM141.0 171.5L138.9 164.3L136.8 171.5ZM142.1 183.5L140.0 176.3L137.9 183.5ZM143.2 195.5L141.1 188.3L139.0 195.5ZM144.3 207.5L142.2 200.3L140.1 207.5ZM144.8 219.8L143.9 212.4L140.6 219.1ZM144.6 232.1L146.1 224.7L140.9 230.1ZM144.8 274.7L151.3 278.5L147.8 271.8ZM146.4 285.6L151.5 291.1L150.2 283.7ZM148.9 296.3L151.0 303.5L153.1 296.3ZM150.0 308.3L152.1 315.5L154.2 308.3ZM151.1 320.3L153.2 327.5L155.3 320.3ZM152.2 332.3L154.3 339.5L156.4 332.3ZM153.3 344.3L155.4 351.5L157.5 344.3ZM154.4 356.3L156.5 363.5L158.6 356.3ZM155.5 368.3L157.6 375.5L159.7 368.3ZM149.0 145.3L146.9 138.1L144.8 145.3ZM150.1 157.3L148.0 150.1L145.9 157.3ZM151.2 169.3L149.1 162.1L147.0 169.3ZM152.3 181.3L150.2 174.1L148.1 181.3ZM153.4 193.3L151.3 186.1L149.2 193.3ZM154.5 205.3L152.4 198.1L150.3 205.3ZM154.6 217.7L154.4 210.2L150.6 216.7ZM153.6 229.7L157.1 223.1L150.6 226.8ZM154.8 273.8L162.2 275.4L156.9 270.1ZM156.1 284.6L162.6 288.2L159.0 281.7ZM159.2 143.1L157.1 135.9L155.0 143.1ZM160.3 155.1L158.2 147.9L156.1 155.1ZM161.4 167.1L159.3 159.9L157.2 167.1ZM162.5 179.1L160.4 171.9L158.3 179.1ZM723.3 312.3L721.2 305.1L719.1 312.3ZM724.4 324.3L722.3 317.1L720.2 324.3ZM725.5 336.3L723.4 329.1L721.3 336.3ZM726.6 348.3L724.5 341.1L722.4 348.3ZM727.7 360.3L725.6 353.1L723.5 360.3ZM728.8 372.3L726.7 365.1L724.6 372.3ZM719.4 194.9L721.5 202.1L723.6 194.9ZM720.1 207.1L723.0 214.1L724.3 206.7ZM719.7 221.3L726.1 225.2L722.8 218.4ZM720.6 234.4L727.9 236.4L722.8 230.8ZM728.5 286.6L731.5 279.7L725.3 283.9ZM731.6 298.5L731.1 291.0L727.5 297.6ZM733.5 310.1L731.4 302.9L729.3 310.1ZM734.6 322.1L732.5 314.9L730.4 322.1ZM735.7 334.1L733.6 326.9L731.5 334.1ZM736.8 346.1L734.7 338.9L732.6 346.1ZM737.9 358.1L735.8 350.9L733.7 358.1ZM739.0 370.1L736.9 362.9L734.8 370.1ZM724.1 132.7L726.2 139.9L728.3 132.7ZM725.2 144.7L727.3 151.9L729.4 144.7ZM726.3 156.7L728.4 163.9L730.5 156.7ZM727.4 168.7L729.5 175.9L731.6 168.7ZM728.5 180.7L730.6 187.9L732.7 180.7ZM729.6 192.7L731.7 199.9L733.8 192.7ZM730.7 204.7L732.8 211.9L734.9 204.7ZM730.6 217.8L735.3 223.6L734.4 216.2ZM731.1 230.8L737.2 235.1L734.4 228.2ZM740.1 284.4L740.7 276.9L736.1 282.9ZM742.2 296.1L740.9 288.7L738.0 295.6ZM743.7 307.9L741.6 300.7L739.5 307.9ZM744.8 319.9L742.7 312.7L740.6 319.9ZM745.9 331.9L743.8 324.7L741.7 331.9ZM747.0 343.9L744.9 336.7L742.8 343.9ZM748.1 355.9L746.0 348.7L743.9 355.9ZM749.2 367.9L747.1 360.7L745.0 367.9ZM734.3 130.5L736.4 137.7L738.5 130.5ZM735.4 142.5L737.5 149.7L739.6 142.5ZM736.5 154.5L738.6 161.7L740.7 154.5ZM737.6 166.5L739.7 173.7L741.8 166.5ZM738.7 178.5L740.8 185.7L742.9 178.5ZM739.8 190.5L741.9 197.7L744.0 190.5ZM740.9 202.5L743.0 209.7L745.1 202.5ZM741.8 214.6L744.3 221.7L746.0 214.4ZM742.9 226.6L745.4 233.7L747.1 226.4ZM752.4 281.2L748.9 274.6L748.3 282.1ZM753.2 293.4L750.3 286.5L749.0 293.9ZM753.9 305.7L751.8 298.5L749.7 305.7ZM755.0 317.7L752.9 310.5L750.8 317.7ZM756.1 329.7L754.0 322.5L751.9 329.7ZM757.2 341.7L755.1 334.5L753.0 341.7ZM758.3 353.7L756.2 346.5L754.1 353.7ZM759.4 365.7L757.3 358.5L755.2 365.7ZM760.5 377.7L758.4 370.5L756.3 377.7ZM745.6 140.3L747.7 147.5L749.8 140.3ZM746.7 152.3L748.8 159.5L750.9 152.3ZM747.8 164.3L749.9 171.5L752.0 164.3ZM748.9 176.3L751.0 183.5L753.1 176.3ZM750.0 188.3L752.1 195.5L754.2 188.3ZM751.1 200.3L753.2 207.5L755.3 200.3ZM752.8 212.0L753.7 219.5L757.0 212.7ZM755.2 223.7L753.7 231.1L758.9 225.7ZM763.8 277.1L757.3 273.3L760.7 280.0ZM764.4 290.2L759.3 284.7L760.6 292.1ZM764.1 303.5L762.0 296.3L759.9 303.5ZM765.2 315.5L763.1 308.3L761.0 315.5ZM766.3 327.5L764.2 320.3L762.1 327.5ZM767.4 339.5L765.3 332.3L763.2 339.5ZM768.5 351.5L766.4 344.3L764.3 351.5ZM769.6 363.5L767.5 356.3L765.4 363.5ZM770.7 375.5L768.6 368.3L766.5 375.5ZM755.8 138.1L757.9 145.3L760.0 138.1ZM756.9 150.1L759.0 157.3L761.1 150.1ZM758.0 162.1L760.1 169.3L762.2 162.1ZM759.1 174.1L761.2 181.3L763.3 174.1ZM760.2 186.1L762.3 193.3L764.4 186.1ZM761.3 198.1L763.4 205.3L765.5 198.1ZM763.4 209.7L763.6 217.2L767.4 210.7ZM766.6 221.7L763.1 228.3L769.6 224.6ZM774.2 273.6L766.9 272.0L772.1 277.3ZM775.1 286.8L768.6 283.1L772.1 289.7ZM766.0 135.9L768.1 143.1L770.2 135.9ZM767.1 147.9L769.2 155.1L771.3 147.9ZM768.2 159.9L770.3 167.1L772.4 159.9ZM769.3 171.9L771.4 179.1L773.5 171.9Z" fill="#d4e8fb" fill-opacity="0.6" stroke="#001024" stroke-width="1.8" stroke-linejoin="miter" stroke-miterlimit="8"/>
<rect x="106.5" y="72.5" width="668.5" height="362.5" fill="none" stroke="#06122a" stroke-width="1.7"/>
<path d="M106.5 178V214 M106.5 296V345" stroke="#000814" stroke-width="2.2" fill="none"/>
<path d="M108.1 187.8L106.0 180.2L103.9 187.8ZM108.1 199.8L106.0 192.2L103.9 199.8ZM108.1 211.8L106.0 204.2L103.9 211.8ZM104.9 299.2L107.0 306.8L109.1 299.2ZM104.9 311.2L107.0 318.8L109.1 311.2ZM104.9 324.2L107.0 331.8L109.1 324.2ZM104.9 336.2L107.0 343.8L109.1 336.2Z" fill="#123" fill-opacity="0.7" stroke="#000814" stroke-width="1.7" stroke-miterlimit="8"/>
<path d="M726.0 213.8L719.0 216.0L726.0 218.2ZM727.5 237.8L720.5 240.0L727.5 242.2ZM725.5 274.8L718.5 277.0L725.5 279.2ZM765.5 243.2L772.5 241.0L765.5 238.8ZM764.1 271.5L771.5 270.7L764.9 267.1Z" fill="#d4e8fb" fill-opacity="0.5" stroke="#001024" stroke-width="1.8" stroke-miterlimit="8"/>
<path d="M100.2 218.5L106.8 216.5L100.2 214.5ZM100.2 230.0L106.8 228.0L100.2 226.0ZM100.2 243.0L106.8 241.0L100.2 239.0ZM169.2 220.0L162.8 222.0L169.2 224.0ZM169.2 232.0L162.8 234.0L169.2 236.0ZM172.2 269.0L165.8 271.0L172.2 273.0Z" fill="#f3dc7a" fill-opacity="0.6" stroke="#2a2404" stroke-width="1.6" stroke-miterlimit="8"/>
<g stroke="#000" stroke-width="1.7" fill="none">
<path d="M50.4 252.9H95.5"/>
<path d="M174.5 255.3H218.9"/>
<path d="M707.2 256.8H663.5V287.4 M647.7 287.4H679.3 M652.0 293.3H675.0 M656.2 298.8H670.8"/>
<path d="M788.6 256.4H832.8V287.4 M817.0 287.4H848.5999999999999 M821.3 293.3H844.3 M825.5 298.8H840.0999999999999"/>
</g>
<g font-family="Liberation Sans, Arial, sans-serif" fill="#000">
<text x="37.3" y="66.8" font-size="70" text-anchor="start">a</text>
<text x="295.8" y="31.9" font-size="33" text-anchor="start">(</text>
<text x="307.9" y="31.9" font-size="33" font-style="italic" text-anchor="start">I</text>
<text x="323.4" y="18.3" font-size="22.5" text-anchor="start">Inner</text>
<text x="376.4" y="31.9" font-size="33" text-anchor="start">,</text>
<text x="395.1" y="31.9" font-size="33" font-style="italic" text-anchor="start">I</text>
<text x="409.5" y="18.3" font-size="22.5" text-anchor="start">Outer</text>
<text x="466.7" y="31.9" font-size="33" text-anchor="start">)</text>
<text x="487.4" y="31.9" font-size="33" text-anchor="start">=</text>
<text x="517.4" y="31.9" font-size="33" text-anchor="start">(1, 1)</text>
<text x="2.3" y="262.6" font-size="33.5" font-style="italic" text-anchor="start">I</text>
<text x="16.7" y="248.4" font-size="23" text-anchor="start">Outer</text>
<text x="224.7" y="263.7" font-size="33.5" font-style="italic" text-anchor="start">I</text>
<text x="240.0" y="250.0" font-size="23" text-anchor="start">Inner</text>
</g>
<rect x="956.5" y="208.3" width="25" height="92.5" fill="#fee684"/>
<rect x="1038" y="208.3" width="23.5" height="92.5" fill="#fee684"/>
<rect x="1568" y="208.3" width="24" height="92.5" fill="#fee684"/>
<rect x="1650.0" y="207.2" width="23.6" height="93.60000000000002" fill="#fee684"/>
<rect x="1218.5" y="59" width="8" height="14.5" fill="#fbbf10"/>
<rect x="1218.5" y="130" width="8" height="13.5" fill="#fbbf10"/>
<rect x="1218.5" y="365.5" width="8" height="13.5" fill="#fbbf10"/>
<rect x="1218.5" y="435.5" width="8" height="14.5" fill="#fbbf10"/>
<rect x="1405.5" y="59" width="8" height="14.5" fill="#fbbf10"/>
<rect x="1405.5" y="130" width="8" height="13.5" fill="#fbbf10"/>
<rect x="1405.5" y="365.5" width="8" height="13.5" fill="#fbbf10"/>
<rect x="1405.5" y="435.5" width="8" height="14.5" fill="#fbbf10"/>
<path d="M981.2 73.0H1650.0V435.5H981.2Z M1038.0 130.0V378.5H1592.0V130.0Z" fill="#0068dc" fill-rule="evenodd"/>
<g clip-path="url(#clipBL)"><ellipse cx="981" cy="254" rx="130" ry="115" fill="url(#bSpot)"/></g>
<rect x="981.2" y="73.0" width="668.8" height="362.5" fill="none" stroke="#03103a" stroke-width="1.8"/>
<path d="M994.9 120.4L1000.1 115.9L993.3 116.7ZM1003.5 120.5L1010.0 118.3L1003.3 116.5ZM1012.4 119.5L1019.1 121.4L1014.6 116.1ZM1022.2 119.7L1028.1 123.2L1025.1 117.0ZM1033.5 118.7L1035.5 125.3L1037.5 118.7ZM989.3 130.1L993.0 124.2L986.7 127.0ZM997.8 130.7L1003.2 126.4L996.3 126.9ZM1006.0 130.0L1012.9 129.5L1006.9 126.1ZM1015.4 130.1L1022.2 131.6L1017.4 126.6ZM1025.6 129.2L1030.4 134.1L1029.2 127.3ZM987.2 140.6L989.4 134.1L984.0 138.3ZM995.2 141.3L1000.0 136.4L993.2 137.8ZM1003.3 141.0L1010.0 139.4L1003.5 137.0ZM1012.5 140.0L1018.9 142.4L1014.9 136.8ZM1022.2 140.5L1028.1 144.1L1025.2 137.8ZM1033.5 139.5L1035.5 146.1L1037.5 139.5ZM989.0 150.7L993.2 145.3L986.7 147.5ZM996.9 150.6L1003.4 148.2L996.7 146.6ZM1006.0 150.7L1012.9 150.4L1007.0 146.8ZM1015.5 150.5L1022.0 152.8L1017.8 147.2ZM1026.0 149.4L1029.8 155.2L1029.9 148.3ZM987.3 161.5L989.4 154.9L984.0 159.2ZM994.4 161.5L1000.3 158.0L993.4 157.6ZM1003.4 162.0L1010.0 160.0L1003.4 158.0ZM1012.5 161.7L1019.3 162.5L1014.1 158.1ZM1022.2 161.3L1028.1 164.9L1025.2 158.6ZM1033.5 160.3L1035.5 166.9L1037.5 160.3ZM988.7 171.4L993.3 166.3L986.6 168.0ZM997.6 172.2L1003.2 168.1L996.3 168.4ZM1006.0 171.5L1012.9 171.2L1007.0 167.6ZM1015.5 170.9L1021.8 173.8L1018.1 167.9ZM1025.6 170.9L1030.5 175.7L1029.1 168.9ZM986.6 182.1L989.8 176.1L983.8 179.3ZM995.2 183.0L1000.0 178.0L993.2 179.5ZM1003.5 183.0L1010.0 180.6L1003.3 179.0ZM1012.5 182.5L1019.3 183.4L1014.1 178.8ZM1022.5 181.4L1027.6 186.0L1025.9 179.3ZM1033.5 181.1L1035.5 187.7L1037.5 181.1ZM989.4 192.5L993.0 186.6L986.7 189.5ZM997.2 192.6L1003.3 189.4L996.5 188.7ZM1006.1 192.5L1012.9 191.9L1006.9 188.6ZM1015.4 192.2L1022.0 194.3L1017.7 188.9ZM1025.9 191.2L1030.0 196.7L1029.6 189.8ZM986.4 202.9L989.9 197.0L983.7 199.9ZM995.0 203.6L1000.1 199.0L993.3 200.0ZM1003.2 203.2L1010.0 202.0L1003.6 199.2ZM1014.5 310.2L1019.1 305.1L1012.4 306.8ZM1026.2 311.8L1027.4 305.0L1022.6 310.1ZM1037.5 312.5L1035.5 305.9L1033.5 312.5ZM986.7 312.9L992.9 315.8L989.4 309.9ZM996.7 316.6L1003.4 315.0L996.9 312.6ZM1006.6 318.3L1013.0 315.7L1006.2 314.3ZM1017.9 320.8L1021.9 315.2L1015.5 317.6ZM1029.6 322.2L1030.1 315.3L1025.8 320.8ZM983.9 322.6L989.5 326.6L987.1 320.2ZM993.3 325.9L1000.2 326.4L994.7 322.2ZM1003.3 328.1L1010.0 326.6L1003.6 324.2ZM1014.7 331.1L1019.0 325.8L1012.4 327.8ZM1026.1 332.7L1027.5 325.9L1022.6 330.7ZM1037.5 333.3L1035.5 326.7L1033.5 333.3ZM986.6 334.4L993.3 336.1L988.7 331.0ZM996.4 336.6L1003.3 336.5L997.5 332.8ZM1007.1 339.7L1012.9 335.8L1006.0 335.8ZM1018.1 341.7L1021.8 335.9L1015.5 338.6ZM1029.3 343.0L1030.3 336.2L1025.7 341.4ZM983.8 343.8L989.8 347.2L986.7 341.0ZM993.4 347.2L1000.3 346.8L994.4 343.3ZM1004.0 349.9L1009.9 346.4L1003.0 346.0ZM1014.4 351.8L1019.2 346.8L1012.4 348.3ZM1025.9 353.5L1027.6 346.8L1022.5 351.4ZM1037.5 354.1L1035.5 347.5L1033.5 354.1ZM986.6 355.0L993.2 357.0L988.9 351.7ZM996.5 357.8L1003.4 357.0L997.2 353.9ZM1007.4 360.7L1012.7 356.3L1005.9 357.0ZM1018.4 362.5L1021.6 356.5L1015.5 359.7ZM1029.0 363.9L1030.6 357.2L1025.5 361.8ZM983.8 364.5L989.7 368.1L986.8 361.8ZM993.4 367.7L1000.3 367.8L994.5 363.9ZM1003.2 369.7L1010.0 368.3L1003.6 365.7ZM1014.4 372.6L1019.2 367.6L1012.4 369.1ZM1025.3 374.2L1028.1 367.9L1022.2 371.6ZM1037.5 374.9L1035.5 368.3L1033.5 374.9ZM986.8 375.0L992.8 378.4L989.7 372.2ZM996.6 378.8L1003.4 377.6L997.1 374.8ZM1006.6 380.7L1013.0 378.1L1006.2 376.7ZM1017.6 383.1L1022.1 377.8L1015.4 379.7ZM1029.1 384.7L1030.5 377.9L1025.6 382.8Z" fill="#0b3f8f" fill-opacity="0.45" stroke="#001024" stroke-width="1.8" stroke-miterlimit="8"/>
<path d="M984.0 209.3L1004.5 214.8M992.0 206.7L1017.7 213.5M1010.0 206.5L1039.9 212.5M984.0 217.6L1000.7 220.3M992.0 214.8L1019.2 218.4M1010.0 215.8L1038.0 220.2M984.0 228.0L1004.1 229.3M992.0 227.4L1021.7 232.4M1010.0 225.1L1041.7 230.4M984.0 235.0L1003.8 235.7M992.0 233.2L1018.5 233.7M1010.0 233.1L1036.7 234.0M984.0 244.3L1005.2 244.7M992.0 245.7L1022.9 245.4M1010.0 243.8L1037.3 246.8M984.0 252.1L1000.6 251.3M992.0 253.7L1020.7 255.5M1010.0 253.3L1038.6 251.9M984.0 261.9L1005.8 260.5M992.0 263.8L1024.9 263.7M1010.0 263.4L1043.0 263.3M984.0 271.3L1005.9 270.2M992.0 272.3L1024.7 269.6M1010.0 271.4L1043.7 266.3M984.0 283.4L1004.1 282.3M992.0 280.9L1025.3 276.1M1010.0 281.3L1040.1 276.3M984.0 289.1L1005.2 286.5M992.0 292.9L1024.4 288.2M1010.0 292.7L1040.5 288.8M984.0 299.6L1004.2 295.0M992.0 301.3L1020.4 297.1M1010.0 299.4L1042.9 290.8" stroke="#000" stroke-width="1.6" fill="none"/>
<path d="M996.4 215.2L1005.2 215.0L997.7 210.4ZM1009.6 213.9L1018.5 213.7L1010.9 209.1ZM1031.8 213.5L1040.6 212.7L1032.8 208.5ZM992.6 221.5L1001.4 220.5L993.4 216.6ZM1011.1 219.9L1019.9 218.5L1011.8 214.9ZM1029.9 221.4L1038.7 220.3L1030.7 216.5ZM996.2 231.3L1004.9 229.3L996.5 226.3ZM1013.7 233.6L1022.5 232.5L1014.5 228.7ZM1033.7 231.6L1042.5 230.6L1034.5 226.7ZM996.0 237.9L1004.5 235.7L996.1 232.9ZM1010.7 236.0L1019.2 233.7L1010.8 231.1ZM1028.8 236.3L1037.4 234.1L1029.0 231.3ZM997.4 247.0L1006.0 244.7L997.5 242.0ZM1015.2 248.0L1023.7 245.4L1015.1 243.0ZM1029.3 248.4L1038.1 246.9L1029.9 243.5ZM993.0 254.2L1001.3 251.3L992.7 249.2ZM1012.8 257.5L1021.4 255.5L1013.1 252.5ZM1031.0 254.7L1039.4 251.8L1030.7 249.7ZM998.2 263.5L1006.6 260.5L997.9 258.5ZM1017.2 266.2L1025.7 263.6L1017.1 261.2ZM1035.2 265.8L1043.7 263.3L1035.2 260.8ZM998.3 273.1L1006.6 270.2L998.0 268.1ZM1017.2 272.7L1025.5 269.5L1016.8 267.7ZM1036.4 270.0L1044.4 266.2L1035.6 265.0ZM996.5 285.2L1004.9 282.2L996.2 280.2ZM1018.0 279.7L1026.0 276.0L1017.3 274.7ZM1032.8 280.0L1040.8 276.2L1032.0 275.1ZM997.9 289.9L1006.0 286.4L997.2 284.9ZM1017.1 291.8L1025.1 288.0L1016.3 286.8ZM1033.2 292.2L1041.3 288.7L1032.5 287.3ZM997.2 299.2L1004.9 294.8L996.1 294.3ZM1013.1 300.8L1021.1 297.0L1012.3 295.8ZM1036.0 295.2L1043.6 290.6L1034.8 290.4Z" fill="#0a0a0a" fill-opacity="0.85" stroke="#000" stroke-width="1.6"/>
<path d="M1030.0 208.5L1056.2 215.5M1030.0 217.7L1052.7 221.7M1030.0 223.5L1058.6 226.7M1030.0 232.4L1052.7 233.8M1030.0 241.8L1053.3 242.7M1030.0 252.8L1060.7 250.7M1030.0 265.8L1053.3 263.9M1030.0 272.8L1060.4 269.3M1030.0 283.4L1061.7 278.1M1030.0 290.9L1058.1 286.0M1030.0 303.0L1061.6 294.6" stroke="#5e4a08" stroke-width="1.5" fill="none"/>
<path d="M1048.1 215.9L1056.9 215.7L1049.4 211.1ZM1044.6 222.8L1053.4 221.8L1045.5 217.9ZM1050.6 228.3L1059.4 226.8L1051.2 223.3ZM1044.8 235.8L1053.4 233.9L1045.1 230.8ZM1045.4 244.9L1054.0 242.7L1045.6 239.9ZM1053.1 253.7L1061.5 250.7L1052.8 248.7ZM1045.8 267.0L1054.1 263.9L1045.4 262.0ZM1053.0 272.7L1061.2 269.2L1052.5 267.7ZM1054.5 281.9L1062.5 278.0L1053.7 276.9ZM1050.9 289.8L1058.8 285.9L1050.0 284.9ZM1054.7 299.0L1062.3 294.4L1053.4 294.2Z" fill="#b89a2e" fill-opacity="0.8" stroke="#4a3a06" stroke-width="1.5"/>
<path d="M983 200Q990 182 1000 168 M990 197Q1006 186 1022 183 M983 308Q990 326 1000 340 M990 311Q1006 322 1022 325" stroke="#000" stroke-width="1.6" fill="none"/>
<path d="M980.5 172L977.8 181L983.2 181Z M980.5 183L977.8 192L983.2 192Z M980.5 336L977.8 327L983.2 327Z M980.5 325L977.8 316L983.2 316Z" fill="#000" stroke="#000" stroke-width="1.4"/>
<g stroke="#000" stroke-width="1.7" fill="none">
<path d="M924.8 254.6H969.5"/>
<path d="M1049 254.2H1090.9"/>
<path d="M1578 254.6H1533.2V286.5 M1517.4 286.5H1549.0 M1521.7 292.4H1544.7 M1525.9 297.9H1540.5"/>
<path d="M1661.7 254.6H1706.6V286.2 M1690.8 286.2H1722.3999999999999 M1695.1 292.09999999999997H1718.1 M1699.3 297.59999999999997H1713.8999999999999"/>
</g>
<g font-family="Liberation Sans, Arial, sans-serif" fill="#000">
<text x="922.6" y="57.8" font-size="66.5" text-anchor="start">b</text>
<text x="1170.5" y="31.9" font-size="33" text-anchor="start">(</text>
<text x="1182.6" y="31.9" font-size="33" font-style="italic" text-anchor="start">I</text>
<text x="1196.2" y="18.3" font-size="22.5" text-anchor="start">Inner</text>
<text x="1247.4" y="31.9" font-size="33" text-anchor="start">,</text>
<text x="1265.2" y="31.9" font-size="33" font-style="italic" text-anchor="start">I</text>
<text x="1279.5" y="18.3" font-size="22.5" text-anchor="start">Outer</text>
<text x="1336.0" y="31.9" font-size="33" text-anchor="start">)</text>
<text x="1352.8" y="31.9" font-size="33" text-anchor="start">=</text>
<text x="1382.0" y="31.9" font-size="33" text-anchor="start">(-1, 1)</text>
<text x="876.3" y="263.6" font-size="33.5" font-style="italic" text-anchor="start">I</text>
<text x="890.8" y="249.6" font-size="23" text-anchor="start">Outer</text>
<text x="1096.9" y="262.6" font-size="33.5" font-style="italic" text-anchor="start">I</text>
<text x="1111.9" y="249.3" font-size="23" text-anchor="start">Inner</text>
</g>
<path d="M107.2 784.5H511.5" stroke="#000" stroke-width="1.5"/>
<rect x="168.0" y="778.0" width="13" height="13" fill="#f40e76"/>
<polygon points="174.5,779.7 175.8,782.8 179.1,783.0 176.5,785.2 177.3,788.4 174.5,786.6 171.7,788.4 172.5,785.2 169.9,783.0 173.2,782.8" fill="none" stroke="#000" stroke-width="2.3"/>
<rect x="235.3" y="735.6" width="13" height="13" fill="#f40e76"/>
<polygon points="241.8,737.3 243.1,740.4 246.4,740.6 243.8,742.8 244.6,746.0 241.8,744.2 239.0,746.0 239.8,742.8 237.2,740.6 240.5,740.4" fill="none" stroke="#000" stroke-width="2.3"/>
<rect x="302.7" y="693.2" width="13" height="13" fill="#f40e76"/>
<polygon points="309.2,694.9 310.5,698.0 313.8,698.2 311.2,700.4 312.0,703.6 309.2,701.9 306.4,703.6 307.2,700.4 304.6,698.2 307.9,698.0" fill="none" stroke="#000" stroke-width="2.3"/>
<rect x="370.0" y="650.8" width="13" height="13" fill="#f40e76"/>
<polygon points="376.5,652.5 377.8,655.6 381.1,655.8 378.5,658.0 379.3,661.2 376.5,659.4 373.7,661.2 374.5,658.0 371.9,655.8 375.2,655.6" fill="none" stroke="#000" stroke-width="2.3"/>
<rect x="437.4" y="608.4" width="13" height="13" fill="#f40e76"/>
<polygon points="443.9,610.1 445.2,613.2 448.5,613.4 445.9,615.6 446.7,618.8 443.9,617.0 441.1,618.8 441.9,615.6 439.3,613.4 442.6,613.2" fill="none" stroke="#000" stroke-width="2.3"/>
<rect x="168.0" y="820.4" width="13" height="13" fill="#8c8812"/>
<circle cx="174.5" cy="826.9" r="4.170999999999999" fill="none" stroke="#000" stroke-width="2.3"/>
<rect x="235.3" y="778.0" width="13" height="13" fill="#8c8812"/>
<circle cx="241.8" cy="784.5" r="4.170999999999999" fill="none" stroke="#000" stroke-width="2.3"/>
<rect x="302.7" y="735.6" width="13" height="13" fill="#8c8812"/>
<circle cx="309.2" cy="742.1" r="4.170999999999999" fill="none" stroke="#000" stroke-width="2.3"/>
<rect x="370.0" y="693.2" width="13" height="13" fill="#8c8812"/>
<circle cx="376.5" cy="699.7" r="4.170999999999999" fill="none" stroke="#000" stroke-width="2.3"/>
<rect x="437.4" y="650.8" width="13" height="13" fill="#8c8812"/>
<circle cx="443.9" cy="657.3" r="4.170999999999999" fill="none" stroke="#000" stroke-width="2.3"/>
<rect x="168.0" y="862.8" width="13" height="13" fill="#1f69e2"/>
<polygon points="174.5,864.474 180.126,874.174 168.874,874.174" fill="none" stroke="#000" stroke-width="2.3"/>
<rect x="235.3" y="820.4" width="13" height="13" fill="#1f69e2"/>
<polygon points="241.8,822.0740000000001 247.42600000000002,831.774 236.174,831.774" fill="none" stroke="#000" stroke-width="2.3"/>
<rect x="302.7" y="778.0" width="13" height="13" fill="#1f69e2"/>
<polygon points="309.2,779.674 314.82599999999996,789.3739999999999 303.574,789.3739999999999" fill="none" stroke="#000" stroke-width="2.3"/>
<rect x="370.0" y="735.6" width="13" height="13" fill="#1f69e2"/>
<polygon points="376.5,737.274 382.126,746.9739999999999 370.874,746.9739999999999" fill="none" stroke="#000" stroke-width="2.3"/>
<rect x="437.4" y="693.2" width="13" height="13" fill="#1f69e2"/>
<polygon points="443.9,694.874 449.52599999999995,704.574 438.274,704.574" fill="none" stroke="#000" stroke-width="2.3"/>
<rect x="168.0" y="905.2" width="13" height="13" fill="#30a870"/>
<polygon points="174.5,917.026 180.126,907.326 168.874,907.326" fill="none" stroke="#000" stroke-width="2.3"/>
<rect x="235.3" y="862.8" width="13" height="13" fill="#30a870"/>
<polygon points="241.8,874.626 247.42600000000002,864.926 236.174,864.926" fill="none" stroke="#000" stroke-width="2.3"/>
<rect x="302.7" y="820.4" width="13" height="13" fill="#30a870"/>
<polygon points="309.2,832.226 314.82599999999996,822.5260000000001 303.574,822.5260000000001" fill="none" stroke="#000" stroke-width="2.3"/>
<rect x="370.0" y="778.0" width="13" height="13" fill="#30a870"/>
<polygon points="376.5,789.826 382.126,780.1260000000001 370.874,780.1260000000001" fill="none" stroke="#000" stroke-width="2.3"/>
<rect x="437.4" y="735.6" width="13" height="13" fill="#30a870"/>
<polygon points="443.9,747.4259999999999 449.52599999999995,737.726 438.274,737.726" fill="none" stroke="#000" stroke-width="2.3"/>
<rect x="168.0" y="947.6" width="13" height="13" fill="#b678e2"/>
<polygon points="174.5,947.698 180.902,954.1 174.5,960.5020000000001 168.098,954.1" fill="none" stroke="#000" stroke-width="2.3"/>
<rect x="235.3" y="905.2" width="13" height="13" fill="#b678e2"/>
<polygon points="241.8,905.298 248.202,911.7 241.8,918.1020000000001 235.39800000000002,911.7" fill="none" stroke="#000" stroke-width="2.3"/>
<rect x="302.7" y="862.8" width="13" height="13" fill="#b678e2"/>
<polygon points="309.2,862.8979999999999 315.602,869.3 309.2,875.702 302.798,869.3" fill="none" stroke="#000" stroke-width="2.3"/>
<rect x="370.0" y="820.4" width="13" height="13" fill="#b678e2"/>
<polygon points="376.5,820.4979999999999 382.902,826.9 376.5,833.302 370.098,826.9" fill="none" stroke="#000" stroke-width="2.3"/>
<rect x="437.4" y="778.0" width="13" height="13" fill="#b678e2"/>
<polygon points="443.9,778.098 450.30199999999996,784.5 443.9,790.902 437.498,784.5" fill="none" stroke="#000" stroke-width="2.3"/>
<path d="M174.5 784.5L443.9 614.9" stroke="#000" stroke-width="1.5"/>
<path d="M174.5 826.9L443.9 657.3" stroke="#000" stroke-width="1.5"/>
<path d="M174.5 869.3L443.9 699.7" stroke="#000" stroke-width="1.5"/>
<path d="M174.5 911.7L443.9 742.1" stroke="#000" stroke-width="1.5"/>
<path d="M174.5 954.1L443.9 784.5" stroke="#000" stroke-width="1.5"/>
<rect x="107.2" y="558.7" width="404.3" height="452.69999999999993" fill="none" stroke="#000" stroke-width="1.9"/>
<path d="M107.2 1011.4v7M174.5 1011.4v7M241.8 1011.4v7M309.2 1011.4v7M376.5 1011.4v7M443.9 1011.4v7M511.2 1011.4v7M107.2 946.3h-7.5M107.2 784.5h-7.5M107.2 622.7h-7.5M107.2 865.4h-4M107.2 703.6h-4" stroke="#000" stroke-width="1.7" fill="none"/>
<g font-family="Liberation Sans, Arial, sans-serif" fill="#000">
<text x="107.2" y="1045.3" font-size="27.5" text-anchor="middle">-3</text>
<text x="174.5" y="1045.3" font-size="27.5" text-anchor="middle">-2</text>
<text x="241.8" y="1045.3" font-size="27.5" text-anchor="middle">-1</text>
<text x="309.2" y="1045.3" font-size="27.5" text-anchor="middle">0</text>
<text x="376.5" y="1045.3" font-size="27.5" text-anchor="middle">1</text>
<text x="443.9" y="1045.3" font-size="27.5" text-anchor="middle">2</text>
<text x="511.2" y="1045.3" font-size="27.5" text-anchor="middle">3</text>
<text x="94.9" y="954.7" font-size="27.5" text-anchor="end">-0.5</text>
<text x="94.9" y="792.9" font-size="27.5" text-anchor="end">0.0</text>
<text x="94.9" y="631.1" font-size="27.5" text-anchor="end">0.5</text>
<g transform="translate(29.6 844.3) rotate(-90)">
<text x="0.0" y="0.0" font-size="31" font-style="italic" text-anchor="start">V</text>
<text x="19.8" y="9.0" font-size="22" font-style="italic" text-anchor="start">xx</text>
<text x="49.4" y="0.0" font-size="31" text-anchor="start">(a.u.)</text>
</g>
<text x="238.7" y="1095.5" font-size="30" font-style="italic" text-anchor="start">I</text>
<text x="252.9" y="1082.6" font-size="21" text-anchor="start">Inner</text>
<text x="309.9" y="1095.5" font-size="30.5" text-anchor="start">(a.u.)</text>
<text x="15.9" y="570.2" font-size="68.5" text-anchor="start">c</text>
<rect x="120.0" y="599.5" width="13.3" height="13" fill="#f40e76"/>
<rect x="120.0" y="628" width="13.3" height="13" fill="#8c8812"/>
<rect x="120.0" y="656.8" width="13.3" height="13" fill="#1f69e2"/>
<rect x="263.0" y="597.0" width="13.3" height="13" fill="#30a870"/>
<rect x="263.0" y="625.4" width="13.3" height="13" fill="#b678e2"/>
<text x="151.5" y="612.6" font-size="20.3" font-style="italic" text-anchor="start">I</text>
<text x="160.3" y="605.0" font-size="14.0" text-anchor="start">Outer</text>
<text x="200.8" y="612.6" font-size="20.3" text-anchor="start">= 2</text>
<text x="151.5" y="641.3" font-size="20.3" font-style="italic" text-anchor="start">I</text>
<text x="160.3" y="633.7" font-size="14.0" text-anchor="start">Outer</text>
<text x="200.8" y="641.3" font-size="20.3" text-anchor="start">= 1</text>
<text x="151.5" y="670.0" font-size="20.3" font-style="italic" text-anchor="start">I</text>
<text x="160.3" y="662.4" font-size="14.0" text-anchor="start">Outer</text>
<text x="200.8" y="670.0" font-size="20.3" text-anchor="start">= 0</text>
<text x="294.2" y="610.2" font-size="20.3" font-style="italic" text-anchor="start">I</text>
<text x="303.0" y="602.6" font-size="14.0" text-anchor="start">Outer</text>
<text x="343.5" y="610.2" font-size="20.3" text-anchor="start">= -1</text>
<text x="294.2" y="638.5" font-size="20.3" font-style="italic" text-anchor="start">I</text>
<text x="303.0" y="630.9" font-size="14.0" text-anchor="start">Outer</text>
<text x="343.5" y="638.5" font-size="20.3" text-anchor="start">= -2</text>
<text x="218.0" y="583.3" font-size="24" font-style="italic" text-anchor="start">V</text>
<text x="232.5" y="588.7" font-size="16.5" font-style="italic" text-anchor="start">xx</text>
<text x="237.2" y="573.2" font-size="16" text-anchor="start">Outer</text>
<polygon points="254.6,935.2 256.1,938.8 259.9,939.1 257.0,941.6 257.9,945.3 254.6,943.3 251.3,945.3 252.2,941.6 249.3,939.1 253.1,938.8" fill="none" stroke="#000" stroke-width="2.0"/>
<circle cx="254.60000000000002" cy="969.4" r="4.3" fill="none" stroke="#000" stroke-width="2.0"/>
<polygon points="254.60000000000002,991.7 260.40000000000003,1001.7 248.8,1001.7" fill="none" stroke="#000" stroke-width="2.0"/>
<polygon points="398.7,946.5999999999999 404.5,936.5999999999999 392.9,936.5999999999999" fill="none" stroke="#000" stroke-width="2.0"/>
<polygon points="398.7,962.1999999999999 405.3,968.8 398.7,975.4 392.09999999999997,968.8" fill="none" stroke="#000" stroke-width="2.0"/>
<text x="280.0" y="946.8" font-size="20.3" font-style="italic" text-anchor="start">I</text>
<text x="288.8" y="939.2" font-size="14.0" text-anchor="start">Outer</text>
<text x="329.3" y="946.8" font-size="20.3" text-anchor="start">= 2</text>
<text x="280.0" y="975.8" font-size="20.3" font-style="italic" text-anchor="start">I</text>
<text x="288.8" y="968.2" font-size="14.0" text-anchor="start">Outer</text>
<text x="329.3" y="975.8" font-size="20.3" text-anchor="start">= 1</text>
<text x="280.0" y="1004.7" font-size="20.3" font-style="italic" text-anchor="start">I</text>
<text x="288.8" y="997.1" font-size="14.0" text-anchor="start">Outer</text>
<text x="329.3" y="1004.7" font-size="20.3" text-anchor="start">= 0</text>
<text x="423.6" y="946.8" font-size="20.3" font-style="italic" text-anchor="start">I</text>
<text x="432.4" y="939.2" font-size="14.0" text-anchor="start">Outer</text>
<text x="472.9" y="946.8" font-size="20.3" text-anchor="start">= -1</text>
<text x="423.6" y="975.8" font-size="20.3" font-style="italic" text-anchor="start">I</text>
<text x="432.4" y="968.2" font-size="14.0" text-anchor="start">Outer</text>
<text x="472.9" y="975.8" font-size="20.3" text-anchor="start">= -2</text>
<text x="351.5" y="912.3" font-size="24" font-style="italic" text-anchor="start">V</text>
<text x="365.2" y="918.3" font-size="16.5" font-style="italic" text-anchor="start">xx</text>
<text x="369.8" y="902.0" font-size="16" text-anchor="start">Inner</text>
</g>
<path d="M689.7 784.5H1094.0" stroke="#000" stroke-width="1.5"/>
<rect x="750.5" y="778.0" width="13" height="13" fill="#ee0a18"/>
<polygon points="757.0,779.7 758.3,782.8 761.6,783.0 759.0,785.2 759.8,788.4 757.0,786.6 754.2,788.4 755.0,785.2 752.4,783.0 755.7,782.8" fill="none" stroke="#000" stroke-width="2.3"/>
<rect x="817.9" y="735.6" width="13" height="13" fill="#ee0a18"/>
<polygon points="824.4,737.3 825.7,740.4 829.0,740.6 826.4,742.8 827.2,746.0 824.4,744.2 821.6,746.0 822.4,742.8 819.8,740.6 823.1,740.4" fill="none" stroke="#000" stroke-width="2.3"/>
<rect x="885.2" y="693.2" width="13" height="13" fill="#ee0a18"/>
<polygon points="891.7,694.9 893.0,698.0 896.3,698.2 893.7,700.4 894.5,703.6 891.7,701.9 888.9,703.6 889.7,700.4 887.1,698.2 890.4,698.0" fill="none" stroke="#000" stroke-width="2.3"/>
<rect x="952.6" y="650.8" width="13" height="13" fill="#ee0a18"/>
<polygon points="959.1,652.5 960.4,655.6 963.7,655.8 961.1,658.0 961.9,661.2 959.1,659.4 956.3,661.2 957.1,658.0 954.5,655.8 957.8,655.6" fill="none" stroke="#000" stroke-width="2.3"/>
<rect x="1019.9" y="608.4" width="13" height="13" fill="#ee0a18"/>
<polygon points="1026.4,610.1 1027.7,613.2 1031.0,613.4 1028.4,615.6 1029.2,618.8 1026.4,617.0 1023.6,618.8 1024.4,615.6 1021.8,613.4 1025.1,613.2" fill="none" stroke="#000" stroke-width="2.3"/>
<rect x="750.5" y="820.4" width="13" height="13" fill="#3865ab"/>
<circle cx="757.0" cy="826.9" r="4.170999999999999" fill="none" stroke="#000" stroke-width="2.3"/>
<rect x="817.9" y="778.0" width="13" height="13" fill="#3865ab"/>
<circle cx="824.4" cy="784.5" r="4.170999999999999" fill="none" stroke="#000" stroke-width="2.3"/>
<rect x="885.2" y="735.6" width="13" height="13" fill="#3865ab"/>
<circle cx="891.7" cy="742.1" r="4.170999999999999" fill="none" stroke="#000" stroke-width="2.3"/>
<rect x="952.6" y="693.2" width="13" height="13" fill="#3865ab"/>
<circle cx="959.1" cy="699.7" r="4.170999999999999" fill="none" stroke="#000" stroke-width="2.3"/>
<rect x="1019.9" y="650.8" width="13" height="13" fill="#3865ab"/>
<circle cx="1026.4" cy="657.3" r="4.170999999999999" fill="none" stroke="#000" stroke-width="2.3"/>
<rect x="750.5" y="862.8" width="13" height="13" fill="#fbc51e"/>
<polygon points="757.0,864.474 762.626,874.174 751.374,874.174" fill="none" stroke="#000" stroke-width="2.3"/>
<rect x="817.9" y="820.4" width="13" height="13" fill="#fbc51e"/>
<polygon points="824.4,822.0740000000001 830.026,831.774 818.774,831.774" fill="none" stroke="#000" stroke-width="2.3"/>
<rect x="885.2" y="778.0" width="13" height="13" fill="#fbc51e"/>
<polygon points="891.7,779.674 897.326,789.3739999999999 886.0740000000001,789.3739999999999" fill="none" stroke="#000" stroke-width="2.3"/>
<rect x="952.6" y="735.6" width="13" height="13" fill="#fbc51e"/>
<polygon points="959.1,737.274 964.726,746.9739999999999 953.474,746.9739999999999" fill="none" stroke="#000" stroke-width="2.3"/>
<rect x="1019.9" y="693.2" width="13" height="13" fill="#fbc51e"/>
<polygon points="1026.4,694.874 1032.026,704.574 1020.7740000000001,704.574" fill="none" stroke="#000" stroke-width="2.3"/>
<rect x="750.5" y="905.2" width="13" height="13" fill="#43c074"/>
<polygon points="757.0,917.026 762.626,907.326 751.374,907.326" fill="none" stroke="#000" stroke-width="2.3"/>
<rect x="817.9" y="862.8" width="13" height="13" fill="#43c074"/>
<polygon points="824.4,874.626 830.026,864.926 818.774,864.926" fill="none" stroke="#000" stroke-width="2.3"/>
<rect x="885.2" y="820.4" width="13" height="13" fill="#43c074"/>
<polygon points="891.7,832.226 897.326,822.5260000000001 886.0740000000001,822.5260000000001" fill="none" stroke="#000" stroke-width="2.3"/>
<rect x="952.6" y="778.0" width="13" height="13" fill="#43c074"/>
<polygon points="959.1,789.826 964.726,780.1260000000001 953.474,780.1260000000001" fill="none" stroke="#000" stroke-width="2.3"/>
<rect x="1019.9" y="735.6" width="13" height="13" fill="#43c074"/>
<polygon points="1026.4,747.4259999999999 1032.026,737.726 1020.7740000000001,737.726" fill="none" stroke="#000" stroke-width="2.3"/>
<rect x="750.5" y="947.6" width="13" height="13" fill="#6a62a6"/>
<polygon points="757.0,947.698 763.402,954.1 757.0,960.5020000000001 750.598,954.1" fill="none" stroke="#000" stroke-width="2.3"/>
<rect x="817.9" y="905.2" width="13" height="13" fill="#6a62a6"/>
<polygon points="824.4,905.298 830.802,911.7 824.4,918.1020000000001 817.9979999999999,911.7" fill="none" stroke="#000" stroke-width="2.3"/>
<rect x="885.2" y="862.8" width="13" height="13" fill="#6a62a6"/>
<polygon points="891.7,862.8979999999999 898.1020000000001,869.3 891.7,875.702 885.298,869.3" fill="none" stroke="#000" stroke-width="2.3"/>
<rect x="952.6" y="820.4" width="13" height="13" fill="#6a62a6"/>
<polygon points="959.1,820.4979999999999 965.5020000000001,826.9 959.1,833.302 952.698,826.9" fill="none" stroke="#000" stroke-width="2.3"/>
<rect x="1019.9" y="778.0" width="13" height="13" fill="#6a62a6"/>
<polygon points="1026.4,778.098 1032.8020000000001,784.5 1026.4,790.902 1019.998,784.5" fill="none" stroke="#000" stroke-width="2.3"/>
<path d="M757.0 784.5L1026.4 614.9" stroke="#000" stroke-width="1.5"/>
<path d="M757.0 826.9L1026.4 657.3" stroke="#000" stroke-width="1.5"/>
<path d="M757.0 869.3L1026.4 699.7" stroke="#000" stroke-width="1.5"/>
<path d="M757.0 911.7L1026.4 742.1" stroke="#000" stroke-width="1.5"/>
<path d="M757.0 954.1L1026.4 784.5" stroke="#000" stroke-width="1.5"/>
<rect x="689.7" y="558.7" width="404.29999999999995" height="452.69999999999993" fill="none" stroke="#000" stroke-width="1.9"/>
<path d="M689.7 1011.4v7M757.0 1011.4v7M824.4 1011.4v7M891.7 1011.4v7M959.1 1011.4v7M1026.4 1011.4v7M1093.8 1011.4v7M689.7 946.3h-7.5M689.7 784.5h-7.5M689.7 622.7h-7.5M689.7 865.4h-4M689.7 703.6h-4" stroke="#000" stroke-width="1.7" fill="none"/>
<g font-family="Liberation Sans, Arial, sans-serif" fill="#000">
<text x="689.7" y="1045.3" font-size="27.5" text-anchor="middle">-3</text>
<text x="757.0" y="1045.3" font-size="27.5" text-anchor="middle">-2</text>
<text x="824.4" y="1045.3" font-size="27.5" text-anchor="middle">-1</text>
<text x="891.7" y="1045.3" font-size="27.5" text-anchor="middle">0</text>
<text x="959.1" y="1045.3" font-size="27.5" text-anchor="middle">1</text>
<text x="1026.4" y="1045.3" font-size="27.5" text-anchor="middle">2</text>
<text x="1093.8" y="1045.3" font-size="27.5" text-anchor="middle">3</text>
<text x="677.4" y="954.7" font-size="27.5" text-anchor="end">-0.5</text>
<text x="677.4" y="792.9" font-size="27.5" text-anchor="end">0.0</text>
<text x="677.4" y="631.1" font-size="27.5" text-anchor="end">0.5</text>
<g transform="translate(612.1 844.3) rotate(-90)">
<text x="0.0" y="0.0" font-size="31" font-style="italic" text-anchor="start">V</text>
<text x="19.8" y="9.0" font-size="22" font-style="italic" text-anchor="start">xx</text>
<text x="49.4" y="0.0" font-size="31" text-anchor="start">(a.u.)</text>
</g>
<text x="819.3" y="1095.5" font-size="30" font-style="italic" text-anchor="start">I</text>
<text x="833.5" y="1082.6" font-size="21" text-anchor="start">Outer</text>
<text x="895.0" y="1095.5" font-size="30.5" text-anchor="start">(a.u.)</text>
<text x="583.7" y="572.6" font-size="68.5" text-anchor="start">d</text>
<rect x="702.5" y="599.5" width="13.3" height="13" fill="#ee0a18"/>
<rect x="702.5" y="628" width="13.3" height="13" fill="#3865ab"/>
<rect x="702.5" y="656.8" width="13.3" height="13" fill="#fbc51e"/>
<rect x="847.6" y="597.0" width="13.3" height="13" fill="#43c074"/>
<rect x="847.6" y="625.4" width="13.3" height="13" fill="#6a62a6"/>
<text x="734.0" y="612.6" font-size="20.3" font-style="italic" text-anchor="start">I</text>
<text x="742.8" y="605.0" font-size="14.0" text-anchor="start">Innter</text>
<text x="783.3" y="612.6" font-size="20.3" text-anchor="start">= 2</text>
<text x="734.0" y="641.3" font-size="20.3" font-style="italic" text-anchor="start">I</text>
<text x="742.8" y="633.7" font-size="14.0" text-anchor="start">Innter</text>
<text x="783.3" y="641.3" font-size="20.3" text-anchor="start">= 1</text>
<text x="734.0" y="670.0" font-size="20.3" font-style="italic" text-anchor="start">I</text>
<text x="742.8" y="662.4" font-size="14.0" text-anchor="start">Innter</text>
<text x="783.3" y="670.0" font-size="20.3" text-anchor="start">= 0</text>
<text x="879.6" y="610.2" font-size="20.3" font-style="italic" text-anchor="start">I</text>
<text x="888.4" y="602.6" font-size="14.0" text-anchor="start">Innter</text>
<text x="928.9" y="610.2" font-size="20.3" text-anchor="start">= -1</text>
<text x="879.6" y="638.5" font-size="20.3" font-style="italic" text-anchor="start">I</text>
<text x="888.4" y="630.9" font-size="14.0" text-anchor="start">Innter</text>
<text x="928.9" y="638.5" font-size="20.3" text-anchor="start">= -2</text>
<text x="796.9" y="583.3" font-size="24" font-style="italic" text-anchor="start">V</text>
<text x="811.4" y="588.7" font-size="16.5" font-style="italic" text-anchor="start">xx</text>
<text x="816.1" y="573.2" font-size="16" text-anchor="start">Outer</text>
<polygon points="845.3,935.2 846.8,938.8 850.6,939.1 847.7,941.6 848.6,945.3 845.3,943.3 842.0,945.3 842.9,941.6 840.0,939.1 843.8,938.8" fill="none" stroke="#000" stroke-width="2.0"/>
<circle cx="845.3000000000001" cy="969.4" r="4.3" fill="none" stroke="#000" stroke-width="2.0"/>
<polygon points="845.3000000000001,991.7 851.1,1001.7 839.5000000000001,1001.7" fill="none" stroke="#000" stroke-width="2.0"/>
<polygon points="978.9000000000001,946.5999999999999 984.7,936.5999999999999 973.1000000000001,936.5999999999999" fill="none" stroke="#000" stroke-width="2.0"/>
<polygon points="978.9000000000001,962.1999999999999 985.5000000000001,968.8 978.9000000000001,975.4 972.3000000000001,968.8" fill="none" stroke="#000" stroke-width="2.0"/>
<text x="869.4" y="946.8" font-size="20.3" font-style="italic" text-anchor="start">I</text>
<text x="878.2" y="939.2" font-size="14.0" text-anchor="start">Innter</text>
<text x="918.7" y="946.8" font-size="20.3" text-anchor="start">= 2</text>
<text x="869.4" y="975.8" font-size="20.3" font-style="italic" text-anchor="start">I</text>
<text x="878.2" y="968.2" font-size="14.0" text-anchor="start">Innter</text>
<text x="918.7" y="975.8" font-size="20.3" text-anchor="start">= 1</text>
<text x="869.4" y="1004.7" font-size="20.3" font-style="italic" text-anchor="start">I</text>
<text x="878.2" y="997.1" font-size="14.0" text-anchor="start">Innter</text>
<text x="918.7" y="1004.7" font-size="20.3" text-anchor="start">= 0</text>
<text x="1003.4" y="946.8" font-size="20.3" font-style="italic" text-anchor="start">I</text>
<text x="1012.2" y="939.2" font-size="14.0" text-anchor="start">Innter</text>
<text x="1052.7" y="946.8" font-size="20.3" text-anchor="start">= -1</text>
<text x="1003.4" y="975.8" font-size="20.3" font-style="italic" text-anchor="start">I</text>
<text x="1012.2" y="968.2" font-size="14.0" text-anchor="start">Innter</text>
<text x="1052.7" y="975.8" font-size="20.3" text-anchor="start">= -2</text>
<text x="937.4" y="912.3" font-size="24" font-style="italic" text-anchor="start">V</text>
<text x="951.1" y="918.3" font-size="16.5" font-style="italic" text-anchor="start">xx</text>
<text x="955.7" y="902.0" font-size="16" text-anchor="start">Inner</text>
</g>
<path d="M1313.1 942.5L1636.3 626.5" stroke="#000" stroke-width="1.2"/>
<polygon points="1313.1,935.7 1320.1,948.5 1306.1,948.5" fill="#1f6fe0"/>
<rect x="1306.5" y="935.9" width="13.2" height="13.2" fill="#1f6fe0" fill-opacity="0.55" stroke="#000" stroke-width="1.4"/>
<polygon points="1353.5,896.2 1360.5,909.0 1346.5,909.0" fill="#1f6fe0"/>
<rect x="1346.9" y="896.4" width="13.2" height="13.2" fill="#1f6fe0" fill-opacity="0.55" stroke="#000" stroke-width="1.4"/>
<polygon points="1393.9,856.7 1400.9,869.5 1386.9,869.5" fill="#1f6fe0"/>
<rect x="1387.3" y="856.9" width="13.2" height="13.2" fill="#1f6fe0" fill-opacity="0.55" stroke="#000" stroke-width="1.4"/>
<polygon points="1434.3,817.2 1441.3,830.0 1427.3,830.0" fill="#1f6fe0"/>
<rect x="1427.7" y="817.4" width="13.2" height="13.2" fill="#1f6fe0" fill-opacity="0.55" stroke="#000" stroke-width="1.4"/>
<polygon points="1474.7,777.7 1481.7,790.5 1467.7,790.5" fill="#1f6fe0"/>
<rect x="1468.1" y="777.9" width="13.2" height="13.2" fill="#1f6fe0" fill-opacity="0.55" stroke="#000" stroke-width="1.4"/>
<polygon points="1515.1,738.2 1522.1,751.0 1508.1,751.0" fill="#1f6fe0"/>
<rect x="1508.5" y="738.4" width="13.2" height="13.2" fill="#1f6fe0" fill-opacity="0.55" stroke="#000" stroke-width="1.4"/>
<polygon points="1555.5,698.7 1562.5,711.5 1548.5,711.5" fill="#1f6fe0"/>
<rect x="1548.9" y="698.9" width="13.2" height="13.2" fill="#1f6fe0" fill-opacity="0.55" stroke="#000" stroke-width="1.4"/>
<polygon points="1595.9,659.2 1602.9,672.0 1588.9,672.0" fill="#1f6fe0"/>
<rect x="1589.3" y="659.4" width="13.2" height="13.2" fill="#1f6fe0" fill-opacity="0.55" stroke="#000" stroke-width="1.4"/>
<polygon points="1636.3,619.7 1643.3,632.5 1629.3,632.5" fill="#1f6fe0"/>
<rect x="1629.7" y="619.9" width="13.2" height="13.2" fill="#1f6fe0" fill-opacity="0.55" stroke="#000" stroke-width="1.4"/>
<rect x="1272.2" y="558.5" width="405.79999999999995" height="452.9" fill="none" stroke="#000" stroke-width="1.9"/>
<path d="M1272.7 1011.4v4M1313.1 1011.4v7M1353.5 1011.4v4M1393.9 1011.4v7M1434.3 1011.4v4M1474.7 1011.4v7M1515.1 1011.4v4M1555.5 1011.4v7M1595.9 1011.4v4M1636.3 1011.4v7M1676.7 1011.4v4M1272.2 935.2h-7.5M1272.2 784.5h-7.5M1272.2 633.8h-7.5M1272.2 1010.6h-4M1272.2 859.9h-4M1272.2 709.1h-4M1272.2 558.4h-4" stroke="#000" stroke-width="1.7" fill="none"/>
<g font-family="Liberation Sans, Arial, sans-serif" fill="#000">
<text x="1313.1" y="1045.3" font-size="27.5" text-anchor="middle">-4</text>
<text x="1393.9" y="1045.3" font-size="27.5" text-anchor="middle">-2</text>
<text x="1474.7" y="1045.3" font-size="27.5" text-anchor="middle">0</text>
<text x="1555.5" y="1045.3" font-size="27.5" text-anchor="middle">2</text>
<text x="1636.3" y="1045.3" font-size="27.5" text-anchor="middle">4</text>
<text x="1259.9" y="943.6" font-size="27.5" text-anchor="end">-0.5</text>
<text x="1259.9" y="792.9" font-size="27.5" text-anchor="end">0.0</text>
<text x="1259.9" y="642.1" font-size="27.5" text-anchor="end">0.5</text>
<g transform="translate(1194.6 844.3) rotate(-90)">
<text x="0.0" y="0.0" font-size="31" font-style="italic" text-anchor="start">V</text>
<text x="19.8" y="9.0" font-size="22" font-style="italic" text-anchor="start">xx</text>
<text x="49.4" y="0.0" font-size="31" text-anchor="start">(a.u.)</text>
</g>
<text x="1413.8" y="1095.5" font-size="30" font-style="italic" text-anchor="start">I</text>
<text x="1426.7" y="1082.6" font-size="21" text-anchor="start">Net</text>
<text x="1468.8" y="1095.5" font-size="30.5" text-anchor="start">(a.u.)</text>
<text x="1164.8" y="572.2" font-size="68" text-anchor="start">e</text>
<rect x="1321.6" y="606.8" width="13.8" height="13.8" fill="none" stroke="#000" stroke-width="1.3"/>
<polygon points="1328.8,655.5 1336.2,667.6 1321.2,667.6" fill="#1f6fe0"/>
<text x="1366.0" y="623.5" font-size="30" font-style="italic" text-anchor="start">V</text>
<text x="1385.0" y="632.4" font-size="20" font-style="italic" text-anchor="start">xx</text>
<text x="1391.5" y="610.6" font-size="21" text-anchor="start">Inner</text>
<text x="1366.0" y="673.6" font-size="30" font-style="italic" text-anchor="start">V</text>
<text x="1385.0" y="682.5" font-size="20" font-style="italic" text-anchor="start">xx</text>
<text x="1391.5" y="660.9" font-size="21" text-anchor="start">Outer</text>
</g>
</svg></body></html>
